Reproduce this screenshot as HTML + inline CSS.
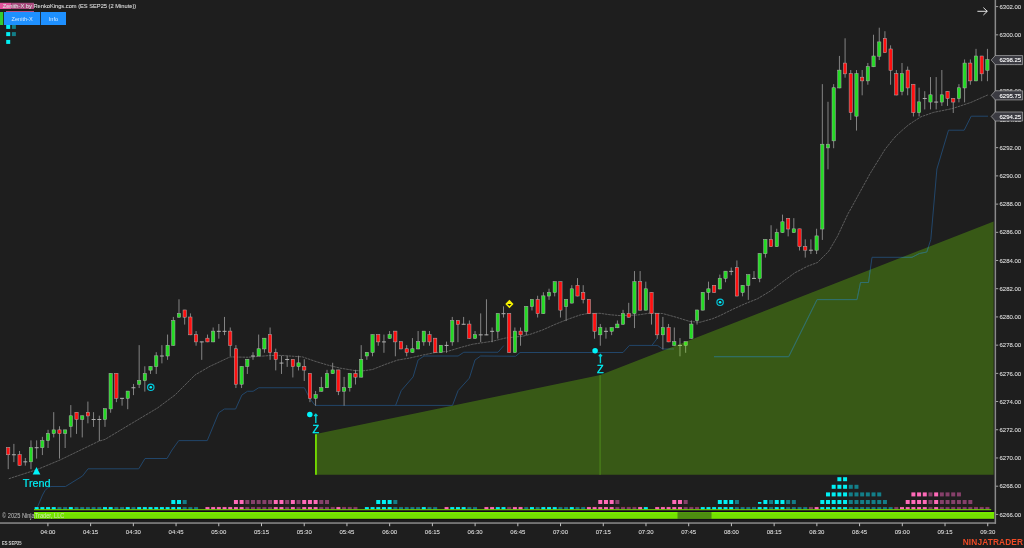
<!DOCTYPE html>
<html lang="en">
<head>
<meta charset="utf-8">
<title>Zenith-X by RenkoKings.com (ES SEP25 (2 Minute))</title>
<style>
html,body{margin:0;padding:0;background:#1e1e1e;overflow:hidden}
body{width:1024px;height:548px}
svg{display:block;font-family:'Liberation Sans', sans-serif}
text{font-family:'Liberation Sans', sans-serif}
.lb{fill:#dadada;stroke:#dadada;stroke-width:.1px}
.tg{fill:#fff;stroke:#fff;stroke-width:.1px}
.cy{fill:#00f0f6;stroke:#00f0f6;stroke-width:.18px}
.zz{stroke-width:.32px}
.bt{fill:#d4e9ff}
.cp{fill:#e8e8e8;fill-opacity:.78}
.es{fill:#d4d4d4;font-weight:bold}
.nt{fill:#ee4a26;font-weight:bold}
</style>
</head>
<body>
<svg width="1024" height="548" viewBox="0 0 1024 548">
<rect x="0" y="0" width="1024" height="548" fill="#1e1e1e"/>
<polyline points="36.30,510.00 42.50,495.00 45.00,490.50 48.00,487.50 51.00,486.50 65.50,486.50 82.50,476.00 88.00,468.80 138.75,468.80 145.00,458.50 167.00,458.50 172.00,450.00 178.75,440.60 207.25,440.60 218.75,412.75 224.40,409.00 235.60,409.00 241.90,395.00 247.50,391.25 253.10,391.25 258.75,387.75 304.40,387.75 308.00,395.00 311.00,400.00 315.00,405.40 395.60,405.40 401.25,390.60 413.10,376.90 418.10,360.00 424.00,356.00 458.10,356.00 463.75,352.25 498.00,352.25 503.75,345.60" fill="none" stroke="#22466a" stroke-width="1.0" stroke-linejoin="round" />
<polyline points="395.00,405.40 452.50,405.40 458.10,390.60 469.40,378.10 475.00,360.00 480.60,356.00 515.60,356.25 520.00,352.50 623.00,352.50 629.40,345.40 657.50,345.40 662.50,349.00 674.00,349.00" fill="none" stroke="#22466a" stroke-width="1.0" stroke-linejoin="round" />
<polyline points="651.90,345.40 657.50,338.00" fill="none" stroke="#22466a" stroke-width="1.0" stroke-linejoin="round" />
<polyline points="714.00,356.70 788.70,356.70 817.10,299.60 857.00,299.60 860.50,282.50 868.50,282.50 872.00,257.30 912.00,257.30 919.30,253.50 926.80,252.00 930.80,239.60 932.50,220.00 936.90,169.00 948.50,130.20 964.20,130.20 971.20,116.20 988.00,116.20" fill="none" stroke="#22466a" stroke-width="1.0" stroke-linejoin="round" />
<polyline points="8.75,478.75 37.50,469.40 60.00,460.00 98.75,441.25 105.00,439.40 128.00,425.60 157.50,408.00 175.00,395.00 195.00,375.00 210.00,366.25 215.00,364.00 230.00,356.90 248.00,357.25 252.50,356.90 268.75,355.60 281.00,355.40 302.50,356.90 315.00,361.25 327.50,365.00 340.00,368.10 355.00,370.60 363.75,370.75 372.50,369.50 385.00,364.50 397.50,360.10 410.00,358.00 422.50,355.10 435.00,352.60 447.50,351.40 460.00,347.60 472.50,344.25 480.00,343.10 492.50,341.25 505.00,338.10 522.50,336.25 530.00,334.40 542.50,330.00 555.00,324.40 567.50,319.40 580.00,315.00 587.50,313.50 600.00,313.30 610.00,314.75 620.00,315.60 637.50,315.00 650.00,313.10 662.50,313.50 675.00,316.90 690.00,321.50 700.00,322.25 712.50,318.75 720.00,315.60 732.50,309.40 745.00,303.75 757.50,298.75 770.00,291.25 782.50,281.90 795.00,272.70 807.50,266.25 817.50,262.50 828.75,251.25 837.50,236.25 848.00,213.75 851.25,208.00 870.00,173.75 885.00,149.40 892.50,140.00 896.00,136.00 902.50,130.00 908.50,124.90 915.00,120.60 921.00,116.75 933.50,112.40 952.25,108.60 971.00,102.40 987.90,94.90" fill="none" stroke="#717171" stroke-width="0.75" stroke-linejoin="round" stroke-dasharray="2.6 0.7"/>
<rect x="7.75" y="447.41" width="0.9" height="21.76" fill="#8e8e8e"/>
<rect x="6.55" y="447.51" width="3.3" height="7.25" fill="#ff1010" stroke="#b0b0b0" stroke-width="0.5"/>
<rect x="13.44" y="443.88" width="0.9" height="18.23" fill="#8e8e8e"/>
<rect x="11.89" y="454.26" width="4" height="1" fill="#b0b0b0"/>
<rect x="19.14" y="450.94" width="0.9" height="14.71" fill="#8e8e8e"/>
<rect x="17.94" y="454.56" width="3.3" height="10.78" fill="#ff1010" stroke="#b0b0b0" stroke-width="0.5"/>
<rect x="24.83" y="457.99" width="0.9" height="7.65" fill="#8e8e8e"/>
<rect x="23.28" y="461.32" width="4" height="1" fill="#b0b0b0"/>
<rect x="30.52" y="440.36" width="0.9" height="28.82" fill="#8e8e8e"/>
<rect x="29.32" y="447.51" width="3.3" height="14.31" fill="#24da24" stroke="#b0b0b0" stroke-width="0.5"/>
<rect x="36.21" y="440.36" width="0.9" height="18.23" fill="#8e8e8e"/>
<rect x="34.66" y="447.21" width="4" height="1" fill="#b0b0b0"/>
<rect x="41.91" y="436.83" width="0.9" height="18.23" fill="#8e8e8e"/>
<rect x="40.71" y="440.46" width="3.3" height="7.25" fill="#24da24" stroke="#b0b0b0" stroke-width="0.5"/>
<rect x="47.60" y="429.77" width="0.9" height="18.23" fill="#8e8e8e"/>
<rect x="46.40" y="433.40" width="3.3" height="7.25" fill="#24da24" stroke="#b0b0b0" stroke-width="0.5"/>
<rect x="53.29" y="412.14" width="0.9" height="25.29" fill="#8e8e8e"/>
<rect x="52.09" y="429.87" width="3.3" height="3.73" fill="#24da24" stroke="#b0b0b0" stroke-width="0.5"/>
<rect x="58.99" y="426.25" width="0.9" height="32.34" fill="#8e8e8e"/>
<rect x="57.79" y="429.87" width="3.3" height="3.73" fill="#ff1010" stroke="#b0b0b0" stroke-width="0.5"/>
<rect x="64.68" y="429.77" width="0.9" height="18.23" fill="#8e8e8e"/>
<rect x="63.48" y="429.87" width="3.3" height="3.73" fill="#24da24" stroke="#b0b0b0" stroke-width="0.5"/>
<rect x="70.37" y="405.09" width="0.9" height="32.34" fill="#8e8e8e"/>
<rect x="69.17" y="415.77" width="3.3" height="10.78" fill="#24da24" stroke="#b0b0b0" stroke-width="0.5"/>
<rect x="76.07" y="412.14" width="0.9" height="21.76" fill="#8e8e8e"/>
<rect x="74.87" y="412.24" width="3.3" height="7.25" fill="#ff1010" stroke="#b0b0b0" stroke-width="0.5"/>
<rect x="81.76" y="415.67" width="0.9" height="21.76" fill="#8e8e8e"/>
<rect x="80.56" y="415.77" width="3.3" height="3.73" fill="#24da24" stroke="#b0b0b0" stroke-width="0.5"/>
<rect x="87.45" y="401.56" width="0.9" height="21.76" fill="#8e8e8e"/>
<rect x="86.25" y="412.24" width="3.3" height="3.73" fill="#ff1010" stroke="#b0b0b0" stroke-width="0.5"/>
<rect x="93.14" y="412.14" width="0.9" height="14.71" fill="#8e8e8e"/>
<rect x="91.59" y="418.99" width="4" height="1" fill="#b0b0b0"/>
<rect x="98.84" y="415.67" width="0.9" height="25.29" fill="#8e8e8e"/>
<rect x="97.29" y="418.99" width="4" height="1" fill="#b0b0b0"/>
<rect x="104.53" y="408.61" width="0.9" height="18.23" fill="#8e8e8e"/>
<rect x="103.33" y="408.71" width="3.3" height="10.78" fill="#24da24" stroke="#b0b0b0" stroke-width="0.5"/>
<rect x="110.22" y="373.34" width="0.9" height="39.40" fill="#8e8e8e"/>
<rect x="109.02" y="373.44" width="3.3" height="35.47" fill="#24da24" stroke="#b0b0b0" stroke-width="0.5"/>
<rect x="115.92" y="373.34" width="0.9" height="28.82" fill="#8e8e8e"/>
<rect x="114.72" y="373.44" width="3.3" height="24.89" fill="#ff1010" stroke="#b0b0b0" stroke-width="0.5"/>
<rect x="121.61" y="398.03" width="0.9" height="7.65" fill="#8e8e8e"/>
<rect x="120.06" y="397.83" width="4" height="1" fill="#b0b0b0"/>
<rect x="127.30" y="390.98" width="0.9" height="18.23" fill="#8e8e8e"/>
<rect x="126.10" y="391.08" width="3.3" height="7.25" fill="#24da24" stroke="#b0b0b0" stroke-width="0.5"/>
<rect x="133.00" y="383.92" width="0.9" height="11.18" fill="#8e8e8e"/>
<rect x="131.45" y="387.25" width="4" height="1" fill="#b0b0b0"/>
<rect x="138.69" y="345.13" width="0.9" height="42.92" fill="#8e8e8e"/>
<rect x="137.49" y="380.50" width="3.3" height="3.73" fill="#24da24" stroke="#b0b0b0" stroke-width="0.5"/>
<rect x="144.38" y="366.29" width="0.9" height="25.29" fill="#8e8e8e"/>
<rect x="143.18" y="373.44" width="3.3" height="7.25" fill="#24da24" stroke="#b0b0b0" stroke-width="0.5"/>
<rect x="150.07" y="366.29" width="0.9" height="7.65" fill="#8e8e8e"/>
<rect x="148.87" y="366.39" width="3.3" height="3.73" fill="#24da24" stroke="#b0b0b0" stroke-width="0.5"/>
<rect x="155.77" y="352.18" width="0.9" height="21.76" fill="#8e8e8e"/>
<rect x="154.57" y="355.81" width="3.3" height="10.78" fill="#24da24" stroke="#b0b0b0" stroke-width="0.5"/>
<rect x="161.46" y="345.13" width="0.9" height="18.23" fill="#8e8e8e"/>
<rect x="159.91" y="355.51" width="4" height="1" fill="#b0b0b0"/>
<rect x="167.15" y="334.55" width="0.9" height="25.29" fill="#8e8e8e"/>
<rect x="165.95" y="345.23" width="3.3" height="10.78" fill="#24da24" stroke="#b0b0b0" stroke-width="0.5"/>
<rect x="172.85" y="316.91" width="0.9" height="28.82" fill="#8e8e8e"/>
<rect x="171.65" y="320.54" width="3.3" height="24.89" fill="#24da24" stroke="#b0b0b0" stroke-width="0.5"/>
<rect x="178.54" y="299.28" width="0.9" height="18.23" fill="#8e8e8e"/>
<rect x="177.34" y="313.48" width="3.3" height="3.73" fill="#24da24" stroke="#b0b0b0" stroke-width="0.5"/>
<rect x="184.23" y="309.86" width="0.9" height="14.71" fill="#8e8e8e"/>
<rect x="183.03" y="309.96" width="3.3" height="7.25" fill="#ff1010" stroke="#b0b0b0" stroke-width="0.5"/>
<rect x="189.93" y="313.38" width="0.9" height="21.76" fill="#8e8e8e"/>
<rect x="188.73" y="317.01" width="3.3" height="17.83" fill="#ff1010" stroke="#b0b0b0" stroke-width="0.5"/>
<rect x="195.62" y="331.02" width="0.9" height="14.71" fill="#8e8e8e"/>
<rect x="194.42" y="334.65" width="3.3" height="7.25" fill="#ff1010" stroke="#b0b0b0" stroke-width="0.5"/>
<rect x="201.31" y="341.60" width="0.9" height="18.24" fill="#8e8e8e"/>
<rect x="199.76" y="341.40" width="4" height="1" fill="#b0b0b0"/>
<rect x="207.00" y="334.55" width="0.9" height="7.65" fill="#8e8e8e"/>
<rect x="205.80" y="338.17" width="3.3" height="3.73" fill="#ff1010" stroke="#b0b0b0" stroke-width="0.5"/>
<rect x="212.70" y="327.49" width="0.9" height="14.71" fill="#8e8e8e"/>
<rect x="211.50" y="331.12" width="3.3" height="10.78" fill="#24da24" stroke="#b0b0b0" stroke-width="0.5"/>
<rect x="218.39" y="323.96" width="0.9" height="14.71" fill="#8e8e8e"/>
<rect x="216.84" y="330.82" width="4" height="1" fill="#b0b0b0"/>
<rect x="224.08" y="316.91" width="0.9" height="18.23" fill="#8e8e8e"/>
<rect x="222.53" y="330.82" width="4" height="1" fill="#b0b0b0"/>
<rect x="229.78" y="327.49" width="0.9" height="28.82" fill="#8e8e8e"/>
<rect x="228.58" y="331.12" width="3.3" height="14.31" fill="#ff1010" stroke="#b0b0b0" stroke-width="0.5"/>
<rect x="235.47" y="345.13" width="0.9" height="42.92" fill="#8e8e8e"/>
<rect x="234.27" y="348.75" width="3.3" height="35.47" fill="#ff1010" stroke="#b0b0b0" stroke-width="0.5"/>
<rect x="241.16" y="366.29" width="0.9" height="21.76" fill="#8e8e8e"/>
<rect x="239.96" y="366.39" width="3.3" height="17.83" fill="#24da24" stroke="#b0b0b0" stroke-width="0.5"/>
<rect x="246.86" y="359.23" width="0.9" height="14.71" fill="#8e8e8e"/>
<rect x="245.66" y="359.33" width="3.3" height="7.25" fill="#24da24" stroke="#b0b0b0" stroke-width="0.5"/>
<rect x="252.55" y="352.18" width="0.9" height="7.65" fill="#8e8e8e"/>
<rect x="251.00" y="355.51" width="4" height="1" fill="#b0b0b0"/>
<rect x="258.24" y="334.55" width="0.9" height="21.76" fill="#8e8e8e"/>
<rect x="257.04" y="348.75" width="3.3" height="7.25" fill="#24da24" stroke="#b0b0b0" stroke-width="0.5"/>
<rect x="263.94" y="338.07" width="0.9" height="14.71" fill="#8e8e8e"/>
<rect x="262.74" y="338.17" width="3.3" height="10.78" fill="#24da24" stroke="#b0b0b0" stroke-width="0.5"/>
<rect x="269.63" y="327.49" width="0.9" height="32.34" fill="#8e8e8e"/>
<rect x="268.43" y="334.65" width="3.3" height="17.83" fill="#ff1010" stroke="#b0b0b0" stroke-width="0.5"/>
<rect x="275.32" y="348.65" width="0.9" height="21.76" fill="#8e8e8e"/>
<rect x="274.12" y="352.28" width="3.3" height="7.25" fill="#ff1010" stroke="#b0b0b0" stroke-width="0.5"/>
<rect x="281.01" y="355.71" width="0.9" height="18.23" fill="#8e8e8e"/>
<rect x="279.46" y="362.56" width="4" height="1" fill="#b0b0b0"/>
<rect x="286.71" y="355.71" width="0.9" height="11.18" fill="#8e8e8e"/>
<rect x="285.16" y="359.03" width="4" height="1" fill="#b0b0b0"/>
<rect x="292.40" y="359.23" width="0.9" height="18.23" fill="#8e8e8e"/>
<rect x="291.20" y="359.33" width="3.3" height="7.25" fill="#ff1010" stroke="#b0b0b0" stroke-width="0.5"/>
<rect x="298.09" y="355.71" width="0.9" height="14.71" fill="#8e8e8e"/>
<rect x="296.89" y="362.86" width="3.3" height="3.73" fill="#24da24" stroke="#b0b0b0" stroke-width="0.5"/>
<rect x="303.79" y="359.23" width="0.9" height="21.76" fill="#8e8e8e"/>
<rect x="302.59" y="366.39" width="3.3" height="3.73" fill="#ff1010" stroke="#b0b0b0" stroke-width="0.5"/>
<rect x="309.48" y="373.34" width="0.9" height="28.82" fill="#8e8e8e"/>
<rect x="308.28" y="373.44" width="3.3" height="24.89" fill="#ff1010" stroke="#b0b0b0" stroke-width="0.5"/>
<rect x="315.17" y="390.98" width="0.9" height="14.71" fill="#8e8e8e"/>
<rect x="313.97" y="394.60" width="3.3" height="3.73" fill="#24da24" stroke="#b0b0b0" stroke-width="0.5"/>
<rect x="320.86" y="376.87" width="0.9" height="14.71" fill="#8e8e8e"/>
<rect x="319.66" y="387.55" width="3.3" height="3.73" fill="#24da24" stroke="#b0b0b0" stroke-width="0.5"/>
<rect x="326.56" y="369.81" width="0.9" height="18.23" fill="#8e8e8e"/>
<rect x="325.36" y="373.44" width="3.3" height="14.31" fill="#24da24" stroke="#b0b0b0" stroke-width="0.5"/>
<rect x="332.25" y="362.76" width="0.9" height="11.18" fill="#8e8e8e"/>
<rect x="331.05" y="369.92" width="3.3" height="3.73" fill="#24da24" stroke="#b0b0b0" stroke-width="0.5"/>
<rect x="337.94" y="369.81" width="0.9" height="25.29" fill="#8e8e8e"/>
<rect x="336.74" y="369.92" width="3.3" height="21.36" fill="#ff1010" stroke="#b0b0b0" stroke-width="0.5"/>
<rect x="343.64" y="376.87" width="0.9" height="28.82" fill="#8e8e8e"/>
<rect x="342.44" y="387.55" width="3.3" height="3.73" fill="#24da24" stroke="#b0b0b0" stroke-width="0.5"/>
<rect x="349.33" y="373.34" width="0.9" height="18.24" fill="#8e8e8e"/>
<rect x="348.13" y="373.44" width="3.3" height="14.31" fill="#24da24" stroke="#b0b0b0" stroke-width="0.5"/>
<rect x="355.02" y="369.81" width="0.9" height="14.71" fill="#8e8e8e"/>
<rect x="353.82" y="373.44" width="3.3" height="3.73" fill="#ff1010" stroke="#b0b0b0" stroke-width="0.5"/>
<rect x="360.72" y="345.13" width="0.9" height="32.34" fill="#8e8e8e"/>
<rect x="359.52" y="359.33" width="3.3" height="17.83" fill="#24da24" stroke="#b0b0b0" stroke-width="0.5"/>
<rect x="366.41" y="352.18" width="0.9" height="7.65" fill="#8e8e8e"/>
<rect x="365.21" y="352.28" width="3.3" height="3.73" fill="#24da24" stroke="#b0b0b0" stroke-width="0.5"/>
<rect x="372.10" y="334.55" width="0.9" height="21.76" fill="#8e8e8e"/>
<rect x="370.90" y="334.65" width="3.3" height="17.83" fill="#24da24" stroke="#b0b0b0" stroke-width="0.5"/>
<rect x="377.79" y="334.55" width="0.9" height="11.18" fill="#8e8e8e"/>
<rect x="376.59" y="334.65" width="3.3" height="7.25" fill="#ff1010" stroke="#b0b0b0" stroke-width="0.5"/>
<rect x="383.49" y="334.55" width="0.9" height="18.23" fill="#8e8e8e"/>
<rect x="381.94" y="341.40" width="4" height="1" fill="#b0b0b0"/>
<rect x="389.18" y="331.02" width="0.9" height="7.65" fill="#8e8e8e"/>
<rect x="387.98" y="334.65" width="3.3" height="3.73" fill="#24da24" stroke="#b0b0b0" stroke-width="0.5"/>
<rect x="394.87" y="331.02" width="0.9" height="25.29" fill="#8e8e8e"/>
<rect x="393.67" y="331.12" width="3.3" height="10.78" fill="#ff1010" stroke="#b0b0b0" stroke-width="0.5"/>
<rect x="400.57" y="341.60" width="0.9" height="7.65" fill="#8e8e8e"/>
<rect x="399.37" y="341.70" width="3.3" height="7.25" fill="#ff1010" stroke="#b0b0b0" stroke-width="0.5"/>
<rect x="406.26" y="345.13" width="0.9" height="11.18" fill="#8e8e8e"/>
<rect x="405.06" y="348.75" width="3.3" height="3.73" fill="#ff1010" stroke="#b0b0b0" stroke-width="0.5"/>
<rect x="411.95" y="338.07" width="0.9" height="14.71" fill="#8e8e8e"/>
<rect x="410.75" y="348.75" width="3.3" height="3.73" fill="#24da24" stroke="#b0b0b0" stroke-width="0.5"/>
<rect x="417.65" y="331.02" width="0.9" height="18.23" fill="#8e8e8e"/>
<rect x="416.45" y="341.70" width="3.3" height="7.25" fill="#24da24" stroke="#b0b0b0" stroke-width="0.5"/>
<rect x="423.34" y="331.02" width="0.9" height="14.71" fill="#8e8e8e"/>
<rect x="422.14" y="331.12" width="3.3" height="10.78" fill="#24da24" stroke="#b0b0b0" stroke-width="0.5"/>
<rect x="429.03" y="331.02" width="0.9" height="14.71" fill="#8e8e8e"/>
<rect x="427.83" y="334.65" width="3.3" height="7.25" fill="#ff1010" stroke="#b0b0b0" stroke-width="0.5"/>
<rect x="434.72" y="338.07" width="0.9" height="14.71" fill="#8e8e8e"/>
<rect x="433.52" y="338.17" width="3.3" height="14.31" fill="#ff1010" stroke="#b0b0b0" stroke-width="0.5"/>
<rect x="440.42" y="345.13" width="0.9" height="7.65" fill="#8e8e8e"/>
<rect x="439.22" y="345.23" width="3.3" height="7.25" fill="#24da24" stroke="#b0b0b0" stroke-width="0.5"/>
<rect x="446.11" y="341.60" width="0.9" height="11.18" fill="#8e8e8e"/>
<rect x="444.56" y="344.93" width="4" height="1" fill="#b0b0b0"/>
<rect x="451.80" y="316.91" width="0.9" height="28.82" fill="#8e8e8e"/>
<rect x="450.60" y="320.54" width="3.3" height="21.36" fill="#24da24" stroke="#b0b0b0" stroke-width="0.5"/>
<rect x="457.50" y="320.44" width="0.9" height="21.76" fill="#8e8e8e"/>
<rect x="456.30" y="320.54" width="3.3" height="3.73" fill="#ff1010" stroke="#b0b0b0" stroke-width="0.5"/>
<rect x="463.19" y="316.91" width="0.9" height="7.65" fill="#8e8e8e"/>
<rect x="461.64" y="323.76" width="4" height="1" fill="#b0b0b0"/>
<rect x="468.88" y="320.44" width="0.9" height="18.23" fill="#8e8e8e"/>
<rect x="467.68" y="324.06" width="3.3" height="14.31" fill="#ff1010" stroke="#b0b0b0" stroke-width="0.5"/>
<rect x="474.58" y="331.02" width="0.9" height="7.65" fill="#8e8e8e"/>
<rect x="473.38" y="334.65" width="3.3" height="3.73" fill="#24da24" stroke="#b0b0b0" stroke-width="0.5"/>
<rect x="480.27" y="313.38" width="0.9" height="28.82" fill="#8e8e8e"/>
<rect x="478.72" y="334.35" width="4" height="1" fill="#b0b0b0"/>
<rect x="485.96" y="299.28" width="0.9" height="35.87" fill="#8e8e8e"/>
<rect x="484.41" y="334.35" width="4" height="1" fill="#b0b0b0"/>
<rect x="491.65" y="327.49" width="0.9" height="14.71" fill="#8e8e8e"/>
<rect x="490.10" y="330.82" width="4" height="1" fill="#b0b0b0"/>
<rect x="497.35" y="313.38" width="0.9" height="25.29" fill="#8e8e8e"/>
<rect x="496.15" y="313.48" width="3.3" height="17.83" fill="#24da24" stroke="#b0b0b0" stroke-width="0.5"/>
<rect x="503.04" y="306.33" width="0.9" height="11.18" fill="#8e8e8e"/>
<rect x="501.49" y="313.18" width="4" height="1" fill="#b0b0b0"/>
<rect x="508.73" y="313.38" width="0.9" height="39.40" fill="#8e8e8e"/>
<rect x="507.53" y="313.48" width="3.3" height="39.00" fill="#ff1010" stroke="#b0b0b0" stroke-width="0.5"/>
<rect x="514.43" y="327.49" width="0.9" height="25.29" fill="#8e8e8e"/>
<rect x="513.23" y="331.12" width="3.3" height="21.36" fill="#24da24" stroke="#b0b0b0" stroke-width="0.5"/>
<rect x="520.12" y="327.49" width="0.9" height="18.24" fill="#8e8e8e"/>
<rect x="518.92" y="331.12" width="3.3" height="3.73" fill="#ff1010" stroke="#b0b0b0" stroke-width="0.5"/>
<rect x="525.81" y="306.33" width="0.9" height="28.82" fill="#8e8e8e"/>
<rect x="524.61" y="306.43" width="3.3" height="24.89" fill="#24da24" stroke="#b0b0b0" stroke-width="0.5"/>
<rect x="531.51" y="299.28" width="0.9" height="11.18" fill="#8e8e8e"/>
<rect x="530.31" y="299.38" width="3.3" height="7.25" fill="#24da24" stroke="#b0b0b0" stroke-width="0.5"/>
<rect x="537.20" y="295.75" width="0.9" height="21.76" fill="#8e8e8e"/>
<rect x="536.00" y="299.38" width="3.3" height="14.31" fill="#ff1010" stroke="#b0b0b0" stroke-width="0.5"/>
<rect x="542.89" y="292.22" width="0.9" height="21.76" fill="#8e8e8e"/>
<rect x="541.69" y="295.85" width="3.3" height="17.84" fill="#24da24" stroke="#b0b0b0" stroke-width="0.5"/>
<rect x="548.58" y="288.69" width="0.9" height="11.18" fill="#8e8e8e"/>
<rect x="547.38" y="292.32" width="3.3" height="3.73" fill="#24da24" stroke="#b0b0b0" stroke-width="0.5"/>
<rect x="554.28" y="281.64" width="0.9" height="14.71" fill="#8e8e8e"/>
<rect x="553.08" y="281.74" width="3.3" height="10.78" fill="#24da24" stroke="#b0b0b0" stroke-width="0.5"/>
<rect x="559.97" y="281.64" width="0.9" height="35.87" fill="#8e8e8e"/>
<rect x="558.77" y="281.74" width="3.3" height="28.42" fill="#ff1010" stroke="#b0b0b0" stroke-width="0.5"/>
<rect x="565.66" y="299.28" width="0.9" height="21.76" fill="#8e8e8e"/>
<rect x="564.46" y="299.38" width="3.3" height="7.25" fill="#24da24" stroke="#b0b0b0" stroke-width="0.5"/>
<rect x="571.36" y="285.17" width="0.9" height="18.24" fill="#8e8e8e"/>
<rect x="570.16" y="288.79" width="3.3" height="14.31" fill="#24da24" stroke="#b0b0b0" stroke-width="0.5"/>
<rect x="577.05" y="278.11" width="0.9" height="18.23" fill="#8e8e8e"/>
<rect x="575.85" y="285.27" width="3.3" height="10.78" fill="#ff1010" stroke="#b0b0b0" stroke-width="0.5"/>
<rect x="582.74" y="285.17" width="0.9" height="18.24" fill="#8e8e8e"/>
<rect x="581.54" y="292.32" width="3.3" height="7.25" fill="#ff1010" stroke="#b0b0b0" stroke-width="0.5"/>
<rect x="588.44" y="299.28" width="0.9" height="14.71" fill="#8e8e8e"/>
<rect x="587.24" y="299.38" width="3.3" height="14.31" fill="#ff1010" stroke="#b0b0b0" stroke-width="0.5"/>
<rect x="594.13" y="313.38" width="0.9" height="25.29" fill="#8e8e8e"/>
<rect x="592.93" y="313.48" width="3.3" height="17.83" fill="#ff1010" stroke="#b0b0b0" stroke-width="0.5"/>
<rect x="599.82" y="323.96" width="0.9" height="21.76" fill="#8e8e8e"/>
<rect x="598.62" y="327.59" width="3.3" height="7.25" fill="#24da24" stroke="#b0b0b0" stroke-width="0.5"/>
<rect x="605.51" y="327.49" width="0.9" height="11.18" fill="#8e8e8e"/>
<rect x="603.97" y="330.82" width="4" height="1" fill="#b0b0b0"/>
<rect x="611.21" y="327.49" width="0.9" height="7.65" fill="#8e8e8e"/>
<rect x="610.01" y="327.59" width="3.3" height="3.73" fill="#24da24" stroke="#b0b0b0" stroke-width="0.5"/>
<rect x="616.90" y="320.44" width="0.9" height="7.65" fill="#8e8e8e"/>
<rect x="615.70" y="324.06" width="3.3" height="3.73" fill="#24da24" stroke="#b0b0b0" stroke-width="0.5"/>
<rect x="622.59" y="309.86" width="0.9" height="14.71" fill="#8e8e8e"/>
<rect x="621.39" y="313.48" width="3.3" height="10.78" fill="#24da24" stroke="#b0b0b0" stroke-width="0.5"/>
<rect x="628.29" y="302.80" width="0.9" height="14.71" fill="#8e8e8e"/>
<rect x="627.09" y="313.48" width="3.3" height="3.73" fill="#ff1010" stroke="#b0b0b0" stroke-width="0.5"/>
<rect x="633.98" y="271.06" width="0.9" height="57.03" fill="#8e8e8e"/>
<rect x="632.78" y="281.74" width="3.3" height="31.94" fill="#24da24" stroke="#b0b0b0" stroke-width="0.5"/>
<rect x="639.67" y="271.06" width="0.9" height="39.40" fill="#8e8e8e"/>
<rect x="638.47" y="281.74" width="3.3" height="28.42" fill="#ff1010" stroke="#b0b0b0" stroke-width="0.5"/>
<rect x="645.37" y="281.64" width="0.9" height="28.82" fill="#8e8e8e"/>
<rect x="644.17" y="288.79" width="3.3" height="21.36" fill="#24da24" stroke="#b0b0b0" stroke-width="0.5"/>
<rect x="651.06" y="292.22" width="0.9" height="32.34" fill="#8e8e8e"/>
<rect x="649.86" y="292.32" width="3.3" height="21.36" fill="#ff1010" stroke="#b0b0b0" stroke-width="0.5"/>
<rect x="656.75" y="313.38" width="0.9" height="25.29" fill="#8e8e8e"/>
<rect x="655.55" y="313.48" width="3.3" height="21.36" fill="#ff1010" stroke="#b0b0b0" stroke-width="0.5"/>
<rect x="662.44" y="316.91" width="0.9" height="32.34" fill="#8e8e8e"/>
<rect x="661.25" y="327.59" width="3.3" height="7.25" fill="#24da24" stroke="#b0b0b0" stroke-width="0.5"/>
<rect x="668.14" y="323.96" width="0.9" height="18.23" fill="#8e8e8e"/>
<rect x="666.94" y="327.59" width="3.3" height="14.31" fill="#ff1010" stroke="#b0b0b0" stroke-width="0.5"/>
<rect x="673.83" y="327.49" width="0.9" height="18.24" fill="#8e8e8e"/>
<rect x="672.63" y="341.70" width="3.3" height="3.73" fill="#24da24" stroke="#b0b0b0" stroke-width="0.5"/>
<rect x="679.52" y="338.07" width="0.9" height="18.23" fill="#8e8e8e"/>
<rect x="677.97" y="344.93" width="4" height="1" fill="#b0b0b0"/>
<rect x="685.22" y="341.60" width="0.9" height="11.18" fill="#8e8e8e"/>
<rect x="684.02" y="341.70" width="3.3" height="3.73" fill="#24da24" stroke="#b0b0b0" stroke-width="0.5"/>
<rect x="690.91" y="320.44" width="0.9" height="18.23" fill="#8e8e8e"/>
<rect x="689.71" y="324.06" width="3.3" height="14.31" fill="#24da24" stroke="#b0b0b0" stroke-width="0.5"/>
<rect x="696.60" y="309.86" width="0.9" height="14.71" fill="#8e8e8e"/>
<rect x="695.40" y="309.96" width="3.3" height="10.78" fill="#24da24" stroke="#b0b0b0" stroke-width="0.5"/>
<rect x="702.30" y="292.22" width="0.9" height="18.23" fill="#8e8e8e"/>
<rect x="701.10" y="292.32" width="3.3" height="17.83" fill="#24da24" stroke="#b0b0b0" stroke-width="0.5"/>
<rect x="707.99" y="281.64" width="0.9" height="18.24" fill="#8e8e8e"/>
<rect x="706.79" y="288.79" width="3.3" height="3.73" fill="#24da24" stroke="#b0b0b0" stroke-width="0.5"/>
<rect x="713.68" y="285.17" width="0.9" height="7.65" fill="#8e8e8e"/>
<rect x="712.48" y="285.27" width="3.3" height="7.25" fill="#ff1010" stroke="#b0b0b0" stroke-width="0.5"/>
<rect x="719.38" y="274.59" width="0.9" height="14.71" fill="#8e8e8e"/>
<rect x="718.18" y="278.21" width="3.3" height="10.78" fill="#24da24" stroke="#b0b0b0" stroke-width="0.5"/>
<rect x="725.07" y="271.06" width="0.9" height="11.18" fill="#8e8e8e"/>
<rect x="723.87" y="271.16" width="3.3" height="7.25" fill="#24da24" stroke="#b0b0b0" stroke-width="0.5"/>
<rect x="730.76" y="267.53" width="0.9" height="7.65" fill="#8e8e8e"/>
<rect x="729.21" y="270.86" width="4" height="1" fill="#b0b0b0"/>
<rect x="736.45" y="260.48" width="0.9" height="35.87" fill="#8e8e8e"/>
<rect x="735.25" y="267.63" width="3.3" height="28.42" fill="#ff1010" stroke="#b0b0b0" stroke-width="0.5"/>
<rect x="742.15" y="285.17" width="0.9" height="11.18" fill="#8e8e8e"/>
<rect x="740.95" y="285.27" width="3.3" height="7.25" fill="#24da24" stroke="#b0b0b0" stroke-width="0.5"/>
<rect x="747.84" y="274.59" width="0.9" height="25.29" fill="#8e8e8e"/>
<rect x="746.64" y="274.69" width="3.3" height="10.78" fill="#24da24" stroke="#b0b0b0" stroke-width="0.5"/>
<rect x="753.53" y="271.06" width="0.9" height="7.65" fill="#8e8e8e"/>
<rect x="751.98" y="277.91" width="4" height="1" fill="#b0b0b0"/>
<rect x="759.23" y="253.42" width="0.9" height="28.82" fill="#8e8e8e"/>
<rect x="758.03" y="253.52" width="3.3" height="24.89" fill="#24da24" stroke="#b0b0b0" stroke-width="0.5"/>
<rect x="764.92" y="239.32" width="0.9" height="18.24" fill="#8e8e8e"/>
<rect x="763.72" y="239.42" width="3.3" height="14.31" fill="#24da24" stroke="#b0b0b0" stroke-width="0.5"/>
<rect x="770.61" y="225.21" width="0.9" height="21.76" fill="#8e8e8e"/>
<rect x="769.41" y="239.42" width="3.3" height="7.25" fill="#ff1010" stroke="#b0b0b0" stroke-width="0.5"/>
<rect x="776.30" y="228.74" width="0.9" height="18.23" fill="#8e8e8e"/>
<rect x="775.11" y="232.36" width="3.3" height="14.31" fill="#24da24" stroke="#b0b0b0" stroke-width="0.5"/>
<rect x="782.00" y="214.63" width="0.9" height="18.23" fill="#8e8e8e"/>
<rect x="780.80" y="221.78" width="3.3" height="10.78" fill="#24da24" stroke="#b0b0b0" stroke-width="0.5"/>
<rect x="787.69" y="218.15" width="0.9" height="18.23" fill="#8e8e8e"/>
<rect x="786.49" y="218.25" width="3.3" height="10.78" fill="#ff1010" stroke="#b0b0b0" stroke-width="0.5"/>
<rect x="793.38" y="218.15" width="0.9" height="14.71" fill="#8e8e8e"/>
<rect x="792.18" y="228.84" width="3.3" height="3.73" fill="#24da24" stroke="#b0b0b0" stroke-width="0.5"/>
<rect x="799.08" y="228.74" width="0.9" height="21.76" fill="#8e8e8e"/>
<rect x="797.88" y="228.84" width="3.3" height="17.83" fill="#ff1010" stroke="#b0b0b0" stroke-width="0.5"/>
<rect x="804.77" y="239.32" width="0.9" height="18.24" fill="#8e8e8e"/>
<rect x="803.57" y="246.47" width="3.3" height="3.73" fill="#ff1010" stroke="#b0b0b0" stroke-width="0.5"/>
<rect x="810.46" y="239.32" width="0.9" height="14.71" fill="#8e8e8e"/>
<rect x="808.91" y="249.70" width="4" height="1" fill="#b0b0b0"/>
<rect x="816.16" y="228.74" width="0.9" height="25.29" fill="#8e8e8e"/>
<rect x="814.96" y="235.89" width="3.3" height="14.31" fill="#24da24" stroke="#b0b0b0" stroke-width="0.5"/>
<rect x="821.85" y="84.13" width="0.9" height="155.79" fill="#8e8e8e"/>
<rect x="820.65" y="144.19" width="3.3" height="84.85" fill="#24da24" stroke="#b0b0b0" stroke-width="0.5"/>
<rect x="827.54" y="101.76" width="0.9" height="67.61" fill="#8e8e8e"/>
<rect x="826.34" y="144.19" width="3.3" height="3.73" fill="#24da24" stroke="#b0b0b0" stroke-width="0.5"/>
<rect x="833.23" y="84.13" width="0.9" height="64.09" fill="#8e8e8e"/>
<rect x="832.03" y="87.75" width="3.3" height="53.11" fill="#24da24" stroke="#b0b0b0" stroke-width="0.5"/>
<rect x="838.93" y="55.91" width="0.9" height="32.34" fill="#8e8e8e"/>
<rect x="837.73" y="70.12" width="3.3" height="17.84" fill="#24da24" stroke="#b0b0b0" stroke-width="0.5"/>
<rect x="844.62" y="38.28" width="0.9" height="39.40" fill="#8e8e8e"/>
<rect x="843.42" y="63.07" width="3.3" height="10.78" fill="#ff1010" stroke="#b0b0b0" stroke-width="0.5"/>
<rect x="850.31" y="70.02" width="0.9" height="49.98" fill="#8e8e8e"/>
<rect x="849.11" y="73.65" width="3.3" height="39.00" fill="#ff1010" stroke="#b0b0b0" stroke-width="0.5"/>
<rect x="856.01" y="70.02" width="0.9" height="60.56" fill="#8e8e8e"/>
<rect x="854.81" y="73.65" width="3.3" height="42.52" fill="#24da24" stroke="#b0b0b0" stroke-width="0.5"/>
<rect x="861.70" y="70.02" width="0.9" height="25.29" fill="#8e8e8e"/>
<rect x="860.50" y="77.17" width="3.3" height="3.73" fill="#ff1010" stroke="#b0b0b0" stroke-width="0.5"/>
<rect x="867.39" y="62.97" width="0.9" height="21.76" fill="#8e8e8e"/>
<rect x="866.19" y="66.59" width="3.3" height="14.31" fill="#24da24" stroke="#b0b0b0" stroke-width="0.5"/>
<rect x="873.09" y="34.75" width="0.9" height="32.34" fill="#8e8e8e"/>
<rect x="871.89" y="56.01" width="3.3" height="10.78" fill="#24da24" stroke="#b0b0b0" stroke-width="0.5"/>
<rect x="878.78" y="27.70" width="0.9" height="32.34" fill="#8e8e8e"/>
<rect x="877.58" y="41.90" width="3.3" height="14.31" fill="#24da24" stroke="#b0b0b0" stroke-width="0.5"/>
<rect x="884.47" y="31.22" width="0.9" height="21.76" fill="#8e8e8e"/>
<rect x="883.27" y="38.38" width="3.3" height="14.31" fill="#ff1010" stroke="#b0b0b0" stroke-width="0.5"/>
<rect x="890.16" y="45.33" width="0.9" height="39.40" fill="#8e8e8e"/>
<rect x="888.97" y="48.96" width="3.3" height="21.36" fill="#ff1010" stroke="#b0b0b0" stroke-width="0.5"/>
<rect x="895.86" y="70.02" width="0.9" height="25.29" fill="#8e8e8e"/>
<rect x="894.66" y="73.65" width="3.3" height="21.36" fill="#ff1010" stroke="#b0b0b0" stroke-width="0.5"/>
<rect x="901.55" y="62.97" width="0.9" height="32.34" fill="#8e8e8e"/>
<rect x="900.35" y="73.65" width="3.3" height="17.83" fill="#24da24" stroke="#b0b0b0" stroke-width="0.5"/>
<rect x="907.24" y="66.49" width="0.9" height="28.82" fill="#8e8e8e"/>
<rect x="906.04" y="70.12" width="3.3" height="17.84" fill="#ff1010" stroke="#b0b0b0" stroke-width="0.5"/>
<rect x="912.94" y="84.13" width="0.9" height="32.34" fill="#8e8e8e"/>
<rect x="911.74" y="84.23" width="3.3" height="28.42" fill="#ff1010" stroke="#b0b0b0" stroke-width="0.5"/>
<rect x="918.63" y="87.66" width="0.9" height="28.82" fill="#8e8e8e"/>
<rect x="917.43" y="101.86" width="3.3" height="10.78" fill="#24da24" stroke="#b0b0b0" stroke-width="0.5"/>
<rect x="924.32" y="91.18" width="0.9" height="18.24" fill="#8e8e8e"/>
<rect x="922.77" y="98.04" width="4" height="1" fill="#b0b0b0"/>
<rect x="930.02" y="77.07" width="0.9" height="32.34" fill="#8e8e8e"/>
<rect x="928.82" y="94.81" width="3.3" height="7.25" fill="#24da24" stroke="#b0b0b0" stroke-width="0.5"/>
<rect x="935.71" y="77.07" width="0.9" height="32.34" fill="#8e8e8e"/>
<rect x="934.16" y="101.56" width="4" height="1" fill="#b0b0b0"/>
<rect x="941.40" y="70.02" width="0.9" height="35.87" fill="#8e8e8e"/>
<rect x="940.20" y="94.81" width="3.3" height="7.25" fill="#24da24" stroke="#b0b0b0" stroke-width="0.5"/>
<rect x="947.09" y="91.18" width="0.9" height="14.71" fill="#8e8e8e"/>
<rect x="945.89" y="91.28" width="3.3" height="7.25" fill="#ff1010" stroke="#b0b0b0" stroke-width="0.5"/>
<rect x="952.79" y="98.24" width="0.9" height="14.71" fill="#8e8e8e"/>
<rect x="951.59" y="98.34" width="3.3" height="3.73" fill="#ff1010" stroke="#b0b0b0" stroke-width="0.5"/>
<rect x="958.48" y="84.13" width="0.9" height="18.24" fill="#8e8e8e"/>
<rect x="957.28" y="87.75" width="3.3" height="10.78" fill="#24da24" stroke="#b0b0b0" stroke-width="0.5"/>
<rect x="964.17" y="59.44" width="0.9" height="42.92" fill="#8e8e8e"/>
<rect x="962.97" y="63.07" width="3.3" height="24.89" fill="#24da24" stroke="#b0b0b0" stroke-width="0.5"/>
<rect x="969.87" y="59.44" width="0.9" height="25.29" fill="#8e8e8e"/>
<rect x="968.67" y="63.07" width="3.3" height="17.83" fill="#ff1010" stroke="#b0b0b0" stroke-width="0.5"/>
<rect x="975.56" y="48.86" width="0.9" height="32.34" fill="#8e8e8e"/>
<rect x="974.36" y="56.01" width="3.3" height="24.89" fill="#24da24" stroke="#b0b0b0" stroke-width="0.5"/>
<rect x="981.25" y="55.91" width="0.9" height="25.29" fill="#8e8e8e"/>
<rect x="980.05" y="56.01" width="3.3" height="17.84" fill="#ff1010" stroke="#b0b0b0" stroke-width="0.5"/>
<rect x="986.95" y="48.86" width="0.9" height="32.34" fill="#8e8e8e"/>
<rect x="985.75" y="59.54" width="3.3" height="10.78" fill="#24da24" stroke="#b0b0b0" stroke-width="0.5"/>
<polygon points="316,434 600.4,375 993.6,221.5 993.6,474.8 316,474.8" fill="#80fc04" fill-opacity="0.27"/>
<rect x="315" y="434.2" width="1.9" height="40.6" fill="#72d800"/>
<rect x="599.3" y="375.2" width="1.6" height="99.6" fill="#4a801a" fill-opacity="0.8"/>
<clipPath id="pg"><polygon points="316,434 600.4,375 993.6,221.5 993.6,474.8 316,474.8"/></clipPath>
<polyline clip-path="url(#pg)" points="714,356.7 788.7,356.7 817.1,299.6 857,299.6 860.5,282.5 868.5,282.5 872,257.3 912,257.3 919.3,253.5 926.8,252 930.8,239.6 932.5,220" fill="none" stroke="#2a6a86" stroke-width="1" stroke-opacity="0.6"/>
<rect x="34.66" y="506.15" width="4" height="0.6" fill="#5a0c0c" fill-opacity="0.55"/>
<rect x="34.66" y="507.1" width="4" height="2.3" fill="#00f0f4"/>
<rect x="40.36" y="506.15" width="4" height="0.6" fill="#5a0c0c" fill-opacity="0.55"/>
<rect x="40.36" y="507.1" width="4" height="2.3" fill="#00f0f4"/>
<rect x="46.05" y="506.15" width="4" height="0.6" fill="#5a0c0c" fill-opacity="0.55"/>
<rect x="46.05" y="507.1" width="4" height="2.3" fill="#00f0f4"/>
<rect x="51.74" y="506.15" width="4" height="0.6" fill="#5a0c0c" fill-opacity="0.55"/>
<rect x="51.74" y="507.1" width="4" height="2.3" fill="#00f0f4"/>
<rect x="57.44" y="506.15" width="4" height="0.6" fill="#5a0c0c" fill-opacity="0.55"/>
<rect x="57.44" y="507.1" width="4" height="2.3" fill="#137e88"/>
<rect x="63.13" y="506.15" width="4" height="0.6" fill="#5a0c0c" fill-opacity="0.55"/>
<rect x="63.13" y="507.1" width="4" height="2.3" fill="#137e88"/>
<rect x="68.82" y="506.15" width="4" height="0.6" fill="#5a0c0c" fill-opacity="0.55"/>
<rect x="68.82" y="507.1" width="4" height="2.3" fill="#00f0f4"/>
<rect x="74.52" y="506.15" width="4" height="0.6" fill="#5a0c0c" fill-opacity="0.55"/>
<rect x="74.52" y="507.1" width="4" height="2.3" fill="#137e88"/>
<rect x="80.21" y="506.15" width="4" height="0.6" fill="#5a0c0c" fill-opacity="0.55"/>
<rect x="80.21" y="507.1" width="4" height="2.3" fill="#137e88"/>
<rect x="85.90" y="506.15" width="4" height="0.6" fill="#5a0c0c" fill-opacity="0.55"/>
<rect x="85.90" y="507.1" width="4" height="2.3" fill="#137e88"/>
<rect x="91.59" y="506.15" width="4" height="0.6" fill="#5a0c0c" fill-opacity="0.55"/>
<rect x="91.59" y="507.1" width="4" height="2.3" fill="#137e88"/>
<rect x="97.29" y="506.15" width="4" height="0.6" fill="#5a0c0c" fill-opacity="0.55"/>
<rect x="97.29" y="507.1" width="4" height="2.3" fill="#137e88"/>
<rect x="102.98" y="506.15" width="4" height="0.6" fill="#5a0c0c" fill-opacity="0.55"/>
<rect x="102.98" y="507.1" width="4" height="2.3" fill="#00f0f4"/>
<rect x="108.67" y="506.15" width="4" height="0.6" fill="#5a0c0c" fill-opacity="0.55"/>
<rect x="108.67" y="507.1" width="4" height="2.3" fill="#00f0f4"/>
<rect x="114.37" y="506.15" width="4" height="0.6" fill="#5a0c0c" fill-opacity="0.55"/>
<rect x="114.37" y="507.1" width="4" height="2.3" fill="#137e88"/>
<rect x="120.06" y="506.15" width="4" height="0.6" fill="#5a0c0c" fill-opacity="0.55"/>
<rect x="120.06" y="507.1" width="4" height="2.3" fill="#137e88"/>
<rect x="125.75" y="506.15" width="4" height="0.6" fill="#5a0c0c" fill-opacity="0.55"/>
<rect x="125.75" y="507.1" width="4" height="2.3" fill="#00f0f4"/>
<rect x="131.45" y="506.15" width="4" height="0.6" fill="#5a0c0c" fill-opacity="0.55"/>
<rect x="131.45" y="507.1" width="4" height="2.3" fill="#137e88"/>
<rect x="137.14" y="506.15" width="4" height="0.6" fill="#5a0c0c" fill-opacity="0.55"/>
<rect x="137.14" y="507.1" width="4" height="2.3" fill="#00f0f4"/>
<rect x="142.83" y="506.15" width="4" height="0.6" fill="#5a0c0c" fill-opacity="0.55"/>
<rect x="142.83" y="507.1" width="4" height="2.3" fill="#00f0f4"/>
<rect x="148.52" y="506.15" width="4" height="0.6" fill="#5a0c0c" fill-opacity="0.55"/>
<rect x="148.52" y="507.1" width="4" height="2.3" fill="#00f0f4"/>
<rect x="154.22" y="506.15" width="4" height="0.6" fill="#5a0c0c" fill-opacity="0.55"/>
<rect x="154.22" y="507.1" width="4" height="2.3" fill="#00f0f4"/>
<rect x="159.91" y="506.15" width="4" height="0.6" fill="#5a0c0c" fill-opacity="0.55"/>
<rect x="159.91" y="507.1" width="4" height="2.3" fill="#00f0f4"/>
<rect x="165.60" y="506.15" width="4" height="0.6" fill="#5a0c0c" fill-opacity="0.55"/>
<rect x="165.60" y="507.1" width="4" height="2.3" fill="#00f0f4"/>
<rect x="171.30" y="506.15" width="4" height="0.6" fill="#5a0c0c" fill-opacity="0.55"/>
<rect x="171.30" y="507.1" width="4" height="2.3" fill="#00f0f4"/>
<rect x="171.30" y="500.00" width="4.00" height="4.00" fill="#00f0f4"/>
<rect x="176.99" y="506.15" width="4" height="0.6" fill="#5a0c0c" fill-opacity="0.55"/>
<rect x="176.99" y="507.1" width="4" height="2.3" fill="#00f0f4"/>
<rect x="176.99" y="500.00" width="4.00" height="4.00" fill="#00f0f4"/>
<rect x="182.68" y="506.15" width="4" height="0.6" fill="#5a0c0c" fill-opacity="0.55"/>
<rect x="182.68" y="507.1" width="4" height="2.3" fill="#137e88"/>
<rect x="182.68" y="500.00" width="4.00" height="4.00" fill="#137e88"/>
<rect x="188.38" y="506.15" width="4" height="0.6" fill="#5a0c0c" fill-opacity="0.55"/>
<rect x="188.38" y="507.1" width="4" height="2.3" fill="#137e88"/>
<rect x="194.07" y="506.15" width="4" height="0.6" fill="#5a0c0c" fill-opacity="0.55"/>
<rect x="194.07" y="507.1" width="4" height="2.3" fill="#137e88"/>
<rect x="205.45" y="506.15" width="4" height="0.6" fill="#5a0c0c" fill-opacity="0.55"/>
<rect x="205.45" y="507.1" width="4" height="2.3" fill="#ff6ab8"/>
<rect x="211.15" y="506.15" width="4" height="0.6" fill="#5a0c0c" fill-opacity="0.55"/>
<rect x="211.15" y="507.1" width="4" height="2.3" fill="#ff6ab8"/>
<rect x="216.84" y="506.15" width="4" height="0.6" fill="#5a0c0c" fill-opacity="0.55"/>
<rect x="216.84" y="507.1" width="4" height="2.3" fill="#ff6ab8"/>
<rect x="222.53" y="506.15" width="4" height="0.6" fill="#5a0c0c" fill-opacity="0.55"/>
<rect x="222.53" y="507.1" width="4" height="2.3" fill="#ff6ab8"/>
<rect x="228.23" y="506.15" width="4" height="0.6" fill="#5a0c0c" fill-opacity="0.55"/>
<rect x="228.23" y="507.1" width="4" height="2.3" fill="#ff6ab8"/>
<rect x="233.92" y="506.15" width="4" height="0.6" fill="#5a0c0c" fill-opacity="0.55"/>
<rect x="233.92" y="507.1" width="4" height="2.3" fill="#ff6ab8"/>
<rect x="233.92" y="500.00" width="4.00" height="4.00" fill="#ff6ab8"/>
<rect x="239.61" y="506.15" width="4" height="0.6" fill="#5a0c0c" fill-opacity="0.55"/>
<rect x="239.61" y="507.1" width="4" height="2.3" fill="#ff6ab8"/>
<rect x="239.61" y="500.00" width="4.00" height="4.00" fill="#ff6ab8"/>
<rect x="245.31" y="506.15" width="4" height="0.6" fill="#5a0c0c" fill-opacity="0.55"/>
<rect x="245.31" y="507.1" width="4" height="2.3" fill="#86406a"/>
<rect x="245.31" y="500.00" width="4.00" height="4.00" fill="#86406a"/>
<rect x="251.00" y="506.15" width="4" height="0.6" fill="#5a0c0c" fill-opacity="0.55"/>
<rect x="251.00" y="507.1" width="4" height="2.3" fill="#86406a"/>
<rect x="251.00" y="500.00" width="4.00" height="4.00" fill="#86406a"/>
<rect x="256.69" y="506.15" width="4" height="0.6" fill="#5a0c0c" fill-opacity="0.55"/>
<rect x="256.69" y="507.1" width="4" height="2.3" fill="#86406a"/>
<rect x="256.69" y="500.00" width="4.00" height="4.00" fill="#86406a"/>
<rect x="262.38" y="506.15" width="4" height="0.6" fill="#5a0c0c" fill-opacity="0.55"/>
<rect x="262.38" y="507.1" width="4" height="2.3" fill="#86406a"/>
<rect x="262.38" y="500.00" width="4.00" height="4.00" fill="#86406a"/>
<rect x="268.08" y="506.15" width="4" height="0.6" fill="#5a0c0c" fill-opacity="0.55"/>
<rect x="268.08" y="507.1" width="4" height="2.3" fill="#86406a"/>
<rect x="268.08" y="500.00" width="4.00" height="4.00" fill="#86406a"/>
<rect x="273.77" y="506.15" width="4" height="0.6" fill="#5a0c0c" fill-opacity="0.55"/>
<rect x="273.77" y="507.1" width="4" height="2.3" fill="#ff6ab8"/>
<rect x="273.77" y="500.00" width="4.00" height="4.00" fill="#ff6ab8"/>
<rect x="279.46" y="506.15" width="4" height="0.6" fill="#5a0c0c" fill-opacity="0.55"/>
<rect x="279.46" y="507.1" width="4" height="2.3" fill="#ff6ab8"/>
<rect x="279.46" y="500.00" width="4.00" height="4.00" fill="#ff6ab8"/>
<rect x="285.16" y="506.15" width="4" height="0.6" fill="#5a0c0c" fill-opacity="0.55"/>
<rect x="285.16" y="507.1" width="4" height="2.3" fill="#86406a"/>
<rect x="285.16" y="500.00" width="4.00" height="4.00" fill="#86406a"/>
<rect x="290.85" y="506.15" width="4" height="0.6" fill="#5a0c0c" fill-opacity="0.55"/>
<rect x="290.85" y="507.1" width="4" height="2.3" fill="#ff6ab8"/>
<rect x="290.85" y="500.00" width="4.00" height="4.00" fill="#ff6ab8"/>
<rect x="296.54" y="506.15" width="4" height="0.6" fill="#5a0c0c" fill-opacity="0.55"/>
<rect x="296.54" y="507.1" width="4" height="2.3" fill="#86406a"/>
<rect x="296.54" y="500.00" width="4.00" height="4.00" fill="#86406a"/>
<rect x="302.24" y="506.15" width="4" height="0.6" fill="#5a0c0c" fill-opacity="0.55"/>
<rect x="302.24" y="507.1" width="4" height="2.3" fill="#ff6ab8"/>
<rect x="302.24" y="500.00" width="4.00" height="4.00" fill="#ff6ab8"/>
<rect x="307.93" y="506.15" width="4" height="0.6" fill="#5a0c0c" fill-opacity="0.55"/>
<rect x="307.93" y="507.1" width="4" height="2.3" fill="#ff6ab8"/>
<rect x="307.93" y="500.00" width="4.00" height="4.00" fill="#ff6ab8"/>
<rect x="313.62" y="506.15" width="4" height="0.6" fill="#5a0c0c" fill-opacity="0.55"/>
<rect x="313.62" y="507.1" width="4" height="2.3" fill="#ff6ab8"/>
<rect x="313.62" y="500.00" width="4.00" height="4.00" fill="#ff6ab8"/>
<rect x="319.31" y="506.15" width="4" height="0.6" fill="#5a0c0c" fill-opacity="0.55"/>
<rect x="319.31" y="507.1" width="4" height="2.3" fill="#86406a"/>
<rect x="319.31" y="500.00" width="4.00" height="4.00" fill="#86406a"/>
<rect x="325.01" y="506.15" width="4" height="0.6" fill="#5a0c0c" fill-opacity="0.55"/>
<rect x="325.01" y="507.1" width="4" height="2.3" fill="#86406a"/>
<rect x="325.01" y="500.00" width="4.00" height="4.00" fill="#86406a"/>
<rect x="330.70" y="506.15" width="4" height="0.6" fill="#5a0c0c" fill-opacity="0.55"/>
<rect x="330.70" y="507.1" width="4" height="2.3" fill="#86406a"/>
<rect x="336.39" y="506.15" width="4" height="0.6" fill="#5a0c0c" fill-opacity="0.55"/>
<rect x="336.39" y="507.1" width="4" height="2.3" fill="#ff6ab8"/>
<rect x="342.09" y="506.15" width="4" height="0.6" fill="#5a0c0c" fill-opacity="0.55"/>
<rect x="342.09" y="507.1" width="4" height="2.3" fill="#86406a"/>
<rect x="347.78" y="506.15" width="4" height="0.6" fill="#5a0c0c" fill-opacity="0.55"/>
<rect x="347.78" y="507.1" width="4" height="2.3" fill="#86406a"/>
<rect x="353.47" y="506.15" width="4" height="0.6" fill="#5a0c0c" fill-opacity="0.55"/>
<rect x="353.47" y="507.1" width="4" height="2.3" fill="#86406a"/>
<rect x="364.86" y="506.15" width="4" height="0.6" fill="#5a0c0c" fill-opacity="0.55"/>
<rect x="364.86" y="507.1" width="4" height="2.3" fill="#00f0f4"/>
<rect x="370.55" y="506.15" width="4" height="0.6" fill="#5a0c0c" fill-opacity="0.55"/>
<rect x="370.55" y="507.1" width="4" height="2.3" fill="#00f0f4"/>
<rect x="376.24" y="506.15" width="4" height="0.6" fill="#5a0c0c" fill-opacity="0.55"/>
<rect x="376.24" y="507.1" width="4" height="2.3" fill="#00f0f4"/>
<rect x="376.24" y="500.00" width="4.00" height="4.00" fill="#00f0f4"/>
<rect x="381.94" y="506.15" width="4" height="0.6" fill="#5a0c0c" fill-opacity="0.55"/>
<rect x="381.94" y="507.1" width="4" height="2.3" fill="#00f0f4"/>
<rect x="381.94" y="500.00" width="4.00" height="4.00" fill="#00f0f4"/>
<rect x="387.63" y="506.15" width="4" height="0.6" fill="#5a0c0c" fill-opacity="0.55"/>
<rect x="387.63" y="507.1" width="4" height="2.3" fill="#00f0f4"/>
<rect x="387.63" y="500.00" width="4.00" height="4.00" fill="#00f0f4"/>
<rect x="393.32" y="506.15" width="4" height="0.6" fill="#5a0c0c" fill-opacity="0.55"/>
<rect x="393.32" y="507.1" width="4" height="2.3" fill="#137e88"/>
<rect x="393.32" y="500.00" width="4.00" height="4.00" fill="#137e88"/>
<rect x="399.02" y="506.15" width="4" height="0.6" fill="#5a0c0c" fill-opacity="0.55"/>
<rect x="399.02" y="507.1" width="4" height="2.3" fill="#137e88"/>
<rect x="404.71" y="506.15" width="4" height="0.6" fill="#5a0c0c" fill-opacity="0.55"/>
<rect x="404.71" y="507.1" width="4" height="2.3" fill="#137e88"/>
<rect x="410.40" y="506.15" width="4" height="0.6" fill="#5a0c0c" fill-opacity="0.55"/>
<rect x="410.40" y="507.1" width="4" height="2.3" fill="#137e88"/>
<rect x="416.10" y="506.15" width="4" height="0.6" fill="#5a0c0c" fill-opacity="0.55"/>
<rect x="416.10" y="507.1" width="4" height="2.3" fill="#137e88"/>
<rect x="421.79" y="506.15" width="4" height="0.6" fill="#5a0c0c" fill-opacity="0.55"/>
<rect x="421.79" y="507.1" width="4" height="2.3" fill="#00f0f4"/>
<rect x="427.48" y="506.15" width="4" height="0.6" fill="#5a0c0c" fill-opacity="0.55"/>
<rect x="427.48" y="507.1" width="4" height="2.3" fill="#137e88"/>
<rect x="433.17" y="506.15" width="4" height="0.6" fill="#5a0c0c" fill-opacity="0.55"/>
<rect x="433.17" y="507.1" width="4" height="2.3" fill="#137e88"/>
<rect x="444.56" y="506.15" width="4" height="0.6" fill="#5a0c0c" fill-opacity="0.55"/>
<rect x="444.56" y="507.1" width="4" height="2.3" fill="#ff6ab8"/>
<rect x="450.25" y="506.15" width="4" height="0.6" fill="#5a0c0c" fill-opacity="0.55"/>
<rect x="450.25" y="507.1" width="4" height="2.3" fill="#00f0f4"/>
<rect x="455.95" y="506.15" width="4" height="0.6" fill="#5a0c0c" fill-opacity="0.55"/>
<rect x="455.95" y="507.1" width="4" height="2.3" fill="#00f0f4"/>
<rect x="461.64" y="506.15" width="4" height="0.6" fill="#5a0c0c" fill-opacity="0.55"/>
<rect x="461.64" y="507.1" width="4" height="2.3" fill="#00f0f4"/>
<rect x="467.33" y="506.15" width="4" height="0.6" fill="#5a0c0c" fill-opacity="0.55"/>
<rect x="467.33" y="507.1" width="4" height="2.3" fill="#137e88"/>
<rect x="473.03" y="506.15" width="4" height="0.6" fill="#5a0c0c" fill-opacity="0.55"/>
<rect x="473.03" y="507.1" width="4" height="2.3" fill="#137e88"/>
<rect x="484.41" y="506.15" width="4" height="0.6" fill="#5a0c0c" fill-opacity="0.55"/>
<rect x="484.41" y="507.1" width="4" height="2.3" fill="#ff6ab8"/>
<rect x="490.10" y="506.15" width="4" height="0.6" fill="#5a0c0c" fill-opacity="0.55"/>
<rect x="490.10" y="507.1" width="4" height="2.3" fill="#ff6ab8"/>
<rect x="495.80" y="506.15" width="4" height="0.6" fill="#5a0c0c" fill-opacity="0.55"/>
<rect x="495.80" y="507.1" width="4" height="2.3" fill="#00f0f4"/>
<rect x="501.49" y="506.15" width="4" height="0.6" fill="#5a0c0c" fill-opacity="0.55"/>
<rect x="501.49" y="507.1" width="4" height="2.3" fill="#00f0f4"/>
<rect x="507.18" y="506.15" width="4" height="0.6" fill="#5a0c0c" fill-opacity="0.55"/>
<rect x="507.18" y="507.1" width="4" height="2.3" fill="#86406a"/>
<rect x="512.88" y="506.15" width="4" height="0.6" fill="#5a0c0c" fill-opacity="0.55"/>
<rect x="512.88" y="507.1" width="4" height="2.3" fill="#ff6ab8"/>
<rect x="518.57" y="506.15" width="4" height="0.6" fill="#5a0c0c" fill-opacity="0.55"/>
<rect x="518.57" y="507.1" width="4" height="2.3" fill="#ff6ab8"/>
<rect x="524.26" y="506.15" width="4" height="0.6" fill="#5a0c0c" fill-opacity="0.55"/>
<rect x="524.26" y="507.1" width="4" height="2.3" fill="#137e88"/>
<rect x="529.96" y="506.15" width="4" height="0.6" fill="#5a0c0c" fill-opacity="0.55"/>
<rect x="529.96" y="507.1" width="4" height="2.3" fill="#00f0f4"/>
<rect x="535.65" y="506.15" width="4" height="0.6" fill="#5a0c0c" fill-opacity="0.55"/>
<rect x="535.65" y="507.1" width="4" height="2.3" fill="#137e88"/>
<rect x="541.34" y="506.15" width="4" height="0.6" fill="#5a0c0c" fill-opacity="0.55"/>
<rect x="541.34" y="507.1" width="4" height="2.3" fill="#00f0f4"/>
<rect x="547.03" y="506.15" width="4" height="0.6" fill="#5a0c0c" fill-opacity="0.55"/>
<rect x="547.03" y="507.1" width="4" height="2.3" fill="#00f0f4"/>
<rect x="552.73" y="506.15" width="4" height="0.6" fill="#5a0c0c" fill-opacity="0.55"/>
<rect x="552.73" y="507.1" width="4" height="2.3" fill="#00f0f4"/>
<rect x="558.42" y="506.15" width="4" height="0.6" fill="#5a0c0c" fill-opacity="0.55"/>
<rect x="558.42" y="507.1" width="4" height="2.3" fill="#137e88"/>
<rect x="564.11" y="506.15" width="4" height="0.6" fill="#5a0c0c" fill-opacity="0.55"/>
<rect x="564.11" y="507.1" width="4" height="2.3" fill="#137e88"/>
<rect x="569.81" y="506.15" width="4" height="0.6" fill="#5a0c0c" fill-opacity="0.55"/>
<rect x="569.81" y="507.1" width="4" height="2.3" fill="#00f0f4"/>
<rect x="575.50" y="506.15" width="4" height="0.6" fill="#5a0c0c" fill-opacity="0.55"/>
<rect x="575.50" y="507.1" width="4" height="2.3" fill="#137e88"/>
<rect x="581.19" y="506.15" width="4" height="0.6" fill="#5a0c0c" fill-opacity="0.55"/>
<rect x="581.19" y="507.1" width="4" height="2.3" fill="#137e88"/>
<rect x="586.89" y="506.15" width="4" height="0.6" fill="#5a0c0c" fill-opacity="0.55"/>
<rect x="586.89" y="507.1" width="4" height="2.3" fill="#ff6ab8"/>
<rect x="592.58" y="506.15" width="4" height="0.6" fill="#5a0c0c" fill-opacity="0.55"/>
<rect x="592.58" y="507.1" width="4" height="2.3" fill="#ff6ab8"/>
<rect x="598.27" y="506.15" width="4" height="0.6" fill="#5a0c0c" fill-opacity="0.55"/>
<rect x="598.27" y="507.1" width="4" height="2.3" fill="#ff6ab8"/>
<rect x="598.27" y="500.00" width="4.00" height="4.00" fill="#ff6ab8"/>
<rect x="603.97" y="506.15" width="4" height="0.6" fill="#5a0c0c" fill-opacity="0.55"/>
<rect x="603.97" y="507.1" width="4" height="2.3" fill="#ff6ab8"/>
<rect x="603.97" y="500.00" width="4.00" height="4.00" fill="#ff6ab8"/>
<rect x="609.66" y="506.15" width="4" height="0.6" fill="#5a0c0c" fill-opacity="0.55"/>
<rect x="609.66" y="507.1" width="4" height="2.3" fill="#ff6ab8"/>
<rect x="609.66" y="500.00" width="4.00" height="4.00" fill="#ff6ab8"/>
<rect x="615.35" y="506.15" width="4" height="0.6" fill="#5a0c0c" fill-opacity="0.55"/>
<rect x="615.35" y="507.1" width="4" height="2.3" fill="#86406a"/>
<rect x="615.35" y="500.00" width="4.00" height="4.00" fill="#86406a"/>
<rect x="621.04" y="506.15" width="4" height="0.6" fill="#5a0c0c" fill-opacity="0.55"/>
<rect x="621.04" y="507.1" width="4" height="2.3" fill="#86406a"/>
<rect x="626.74" y="506.15" width="4" height="0.6" fill="#5a0c0c" fill-opacity="0.55"/>
<rect x="626.74" y="507.1" width="4" height="2.3" fill="#86406a"/>
<rect x="632.43" y="506.15" width="4" height="0.6" fill="#5a0c0c" fill-opacity="0.55"/>
<rect x="632.43" y="507.1" width="4" height="2.3" fill="#86406a"/>
<rect x="638.12" y="506.15" width="4" height="0.6" fill="#5a0c0c" fill-opacity="0.55"/>
<rect x="638.12" y="507.1" width="4" height="2.3" fill="#ff6ab8"/>
<rect x="643.82" y="506.15" width="4" height="0.6" fill="#5a0c0c" fill-opacity="0.55"/>
<rect x="643.82" y="507.1" width="4" height="2.3" fill="#00f0f4"/>
<rect x="655.20" y="506.15" width="4" height="0.6" fill="#5a0c0c" fill-opacity="0.55"/>
<rect x="655.20" y="507.1" width="4" height="2.3" fill="#ff6ab8"/>
<rect x="660.89" y="506.15" width="4" height="0.6" fill="#5a0c0c" fill-opacity="0.55"/>
<rect x="660.89" y="507.1" width="4" height="2.3" fill="#ff6ab8"/>
<rect x="666.59" y="506.15" width="4" height="0.6" fill="#5a0c0c" fill-opacity="0.55"/>
<rect x="666.59" y="507.1" width="4" height="2.3" fill="#ff6ab8"/>
<rect x="672.28" y="506.15" width="4" height="0.6" fill="#5a0c0c" fill-opacity="0.55"/>
<rect x="672.28" y="507.1" width="4" height="2.3" fill="#ff6ab8"/>
<rect x="672.28" y="500.00" width="4.00" height="4.00" fill="#ff6ab8"/>
<rect x="677.97" y="506.15" width="4" height="0.6" fill="#5a0c0c" fill-opacity="0.55"/>
<rect x="677.97" y="507.1" width="4" height="2.3" fill="#ff6ab8"/>
<rect x="677.97" y="500.00" width="4.00" height="4.00" fill="#ff6ab8"/>
<rect x="683.67" y="506.15" width="4" height="0.6" fill="#5a0c0c" fill-opacity="0.55"/>
<rect x="683.67" y="507.1" width="4" height="2.3" fill="#86406a"/>
<rect x="683.67" y="500.00" width="4.00" height="4.00" fill="#86406a"/>
<rect x="689.36" y="506.15" width="4" height="0.6" fill="#5a0c0c" fill-opacity="0.55"/>
<rect x="689.36" y="507.1" width="4" height="2.3" fill="#86406a"/>
<rect x="695.05" y="506.15" width="4" height="0.6" fill="#5a0c0c" fill-opacity="0.55"/>
<rect x="695.05" y="507.1" width="4" height="2.3" fill="#86406a"/>
<rect x="700.75" y="506.15" width="4" height="0.6" fill="#5a0c0c" fill-opacity="0.55"/>
<rect x="700.75" y="507.1" width="4" height="2.3" fill="#00f0f4"/>
<rect x="706.44" y="506.15" width="4" height="0.6" fill="#5a0c0c" fill-opacity="0.55"/>
<rect x="706.44" y="507.1" width="4" height="2.3" fill="#00f0f4"/>
<rect x="712.13" y="506.15" width="4" height="0.6" fill="#5a0c0c" fill-opacity="0.55"/>
<rect x="712.13" y="507.1" width="4" height="2.3" fill="#00f0f4"/>
<rect x="717.83" y="506.15" width="4" height="0.6" fill="#5a0c0c" fill-opacity="0.55"/>
<rect x="717.83" y="507.1" width="4" height="2.3" fill="#00f0f4"/>
<rect x="717.83" y="500.00" width="4.00" height="4.00" fill="#00f0f4"/>
<rect x="723.52" y="506.15" width="4" height="0.6" fill="#5a0c0c" fill-opacity="0.55"/>
<rect x="723.52" y="507.1" width="4" height="2.3" fill="#00f0f4"/>
<rect x="723.52" y="500.00" width="4.00" height="4.00" fill="#00f0f4"/>
<rect x="729.21" y="506.15" width="4" height="0.6" fill="#5a0c0c" fill-opacity="0.55"/>
<rect x="729.21" y="507.1" width="4" height="2.3" fill="#00f0f4"/>
<rect x="729.21" y="500.00" width="4.00" height="4.00" fill="#00f0f4"/>
<rect x="734.90" y="506.15" width="4" height="0.6" fill="#5a0c0c" fill-opacity="0.55"/>
<rect x="734.90" y="507.1" width="4" height="2.3" fill="#137e88"/>
<rect x="734.90" y="500.00" width="4.00" height="4.00" fill="#137e88"/>
<rect x="740.60" y="506.15" width="4" height="0.6" fill="#5a0c0c" fill-opacity="0.55"/>
<rect x="740.60" y="507.1" width="4" height="2.3" fill="#137e88"/>
<rect x="746.29" y="506.15" width="4" height="0.6" fill="#5a0c0c" fill-opacity="0.55"/>
<rect x="746.29" y="507.1" width="4" height="2.3" fill="#137e88"/>
<rect x="751.98" y="506.15" width="4" height="0.6" fill="#5a0c0c" fill-opacity="0.55"/>
<rect x="751.98" y="507.1" width="4" height="2.3" fill="#137e88"/>
<rect x="757.68" y="506.15" width="4" height="0.6" fill="#5a0c0c" fill-opacity="0.55"/>
<rect x="757.68" y="507.1" width="4" height="2.3" fill="#00f0f4"/>
<rect x="763.37" y="506.15" width="4" height="0.6" fill="#5a0c0c" fill-opacity="0.55"/>
<rect x="763.37" y="507.1" width="4" height="2.3" fill="#00f0f4"/>
<rect x="763.37" y="500.00" width="4.00" height="4.00" fill="#00f0f4"/>
<rect x="769.06" y="506.15" width="4" height="0.6" fill="#5a0c0c" fill-opacity="0.55"/>
<rect x="769.06" y="507.1" width="4" height="2.3" fill="#137e88"/>
<rect x="769.06" y="500.00" width="4.00" height="4.00" fill="#137e88"/>
<rect x="774.75" y="506.15" width="4" height="0.6" fill="#5a0c0c" fill-opacity="0.55"/>
<rect x="774.75" y="507.1" width="4" height="2.3" fill="#00f0f4"/>
<rect x="774.75" y="500.00" width="4.00" height="4.00" fill="#00f0f4"/>
<rect x="780.45" y="506.15" width="4" height="0.6" fill="#5a0c0c" fill-opacity="0.55"/>
<rect x="780.45" y="507.1" width="4" height="2.3" fill="#00f0f4"/>
<rect x="780.45" y="500.00" width="4.00" height="4.00" fill="#00f0f4"/>
<rect x="786.14" y="506.15" width="4" height="0.6" fill="#5a0c0c" fill-opacity="0.55"/>
<rect x="786.14" y="507.1" width="4" height="2.3" fill="#137e88"/>
<rect x="786.14" y="500.00" width="4.00" height="4.00" fill="#137e88"/>
<rect x="791.83" y="506.15" width="4" height="0.6" fill="#5a0c0c" fill-opacity="0.55"/>
<rect x="791.83" y="507.1" width="4" height="2.3" fill="#137e88"/>
<rect x="791.83" y="500.00" width="4.00" height="4.00" fill="#137e88"/>
<rect x="797.53" y="506.15" width="4" height="0.6" fill="#5a0c0c" fill-opacity="0.55"/>
<rect x="797.53" y="507.1" width="4" height="2.3" fill="#137e88"/>
<rect x="803.22" y="506.15" width="4" height="0.6" fill="#5a0c0c" fill-opacity="0.55"/>
<rect x="803.22" y="507.1" width="4" height="2.3" fill="#137e88"/>
<rect x="808.91" y="506.15" width="4" height="0.6" fill="#5a0c0c" fill-opacity="0.55"/>
<rect x="808.91" y="507.1" width="4" height="2.3" fill="#86406a"/>
<rect x="814.61" y="506.15" width="4" height="0.6" fill="#5a0c0c" fill-opacity="0.55"/>
<rect x="814.61" y="507.1" width="4" height="2.3" fill="#ff6ab8"/>
<rect x="820.30" y="506.15" width="4" height="0.6" fill="#5a0c0c" fill-opacity="0.55"/>
<rect x="820.30" y="507.1" width="4" height="2.3" fill="#00f0f4"/>
<rect x="820.30" y="500.00" width="4.00" height="4.00" fill="#00f0f4"/>
<rect x="825.99" y="506.15" width="4" height="0.6" fill="#5a0c0c" fill-opacity="0.55"/>
<rect x="825.99" y="507.1" width="4" height="2.3" fill="#00f0f4"/>
<rect x="825.99" y="500.00" width="4.00" height="4.00" fill="#00f0f4"/>
<rect x="825.99" y="492.40" width="4.00" height="4.00" fill="#00f0f4"/>
<rect x="831.68" y="506.15" width="4" height="0.6" fill="#5a0c0c" fill-opacity="0.55"/>
<rect x="831.68" y="507.1" width="4" height="2.3" fill="#00f0f4"/>
<rect x="831.68" y="500.00" width="4.00" height="4.00" fill="#00f0f4"/>
<rect x="831.68" y="492.40" width="4.00" height="4.00" fill="#00f0f4"/>
<rect x="831.68" y="484.80" width="4.00" height="4.00" fill="#00f0f4"/>
<rect x="837.38" y="506.15" width="4" height="0.6" fill="#5a0c0c" fill-opacity="0.55"/>
<rect x="837.38" y="507.1" width="4" height="2.3" fill="#00f0f4"/>
<rect x="837.38" y="500.00" width="4.00" height="4.00" fill="#00f0f4"/>
<rect x="837.38" y="492.40" width="4.00" height="4.00" fill="#00f0f4"/>
<rect x="837.38" y="484.80" width="4.00" height="4.00" fill="#00f0f4"/>
<rect x="837.38" y="477.20" width="4.00" height="4.00" fill="#00f0f4"/>
<rect x="843.07" y="506.15" width="4" height="0.6" fill="#5a0c0c" fill-opacity="0.55"/>
<rect x="843.07" y="507.1" width="4" height="2.3" fill="#00f0f4"/>
<rect x="843.07" y="500.00" width="4.00" height="4.00" fill="#00f0f4"/>
<rect x="843.07" y="492.40" width="4.00" height="4.00" fill="#00f0f4"/>
<rect x="843.07" y="484.80" width="4.00" height="4.00" fill="#00f0f4"/>
<rect x="843.07" y="477.20" width="4.00" height="4.00" fill="#00f0f4"/>
<rect x="848.76" y="506.15" width="4" height="0.6" fill="#5a0c0c" fill-opacity="0.55"/>
<rect x="848.76" y="507.1" width="4" height="2.3" fill="#137e88"/>
<rect x="848.76" y="500.00" width="4.00" height="4.00" fill="#137e88"/>
<rect x="848.76" y="492.40" width="4.00" height="4.00" fill="#137e88"/>
<rect x="848.76" y="484.80" width="4.00" height="4.00" fill="#137e88"/>
<rect x="854.46" y="506.15" width="4" height="0.6" fill="#5a0c0c" fill-opacity="0.55"/>
<rect x="854.46" y="507.1" width="4" height="2.3" fill="#137e88"/>
<rect x="854.46" y="500.00" width="4.00" height="4.00" fill="#137e88"/>
<rect x="854.46" y="492.40" width="4.00" height="4.00" fill="#137e88"/>
<rect x="854.46" y="484.80" width="4.00" height="4.00" fill="#137e88"/>
<rect x="860.15" y="506.15" width="4" height="0.6" fill="#5a0c0c" fill-opacity="0.55"/>
<rect x="860.15" y="507.1" width="4" height="2.3" fill="#137e88"/>
<rect x="860.15" y="500.00" width="4.00" height="4.00" fill="#137e88"/>
<rect x="860.15" y="492.40" width="4.00" height="4.00" fill="#137e88"/>
<rect x="865.84" y="506.15" width="4" height="0.6" fill="#5a0c0c" fill-opacity="0.55"/>
<rect x="865.84" y="507.1" width="4" height="2.3" fill="#137e88"/>
<rect x="865.84" y="500.00" width="4.00" height="4.00" fill="#137e88"/>
<rect x="865.84" y="492.40" width="4.00" height="4.00" fill="#137e88"/>
<rect x="871.54" y="506.15" width="4" height="0.6" fill="#5a0c0c" fill-opacity="0.55"/>
<rect x="871.54" y="507.1" width="4" height="2.3" fill="#137e88"/>
<rect x="871.54" y="500.00" width="4.00" height="4.00" fill="#137e88"/>
<rect x="871.54" y="492.40" width="4.00" height="4.00" fill="#137e88"/>
<rect x="877.23" y="506.15" width="4" height="0.6" fill="#5a0c0c" fill-opacity="0.55"/>
<rect x="877.23" y="507.1" width="4" height="2.3" fill="#137e88"/>
<rect x="877.23" y="500.00" width="4.00" height="4.00" fill="#137e88"/>
<rect x="877.23" y="492.40" width="4.00" height="4.00" fill="#137e88"/>
<rect x="882.92" y="506.15" width="4" height="0.6" fill="#5a0c0c" fill-opacity="0.55"/>
<rect x="882.92" y="507.1" width="4" height="2.3" fill="#137e88"/>
<rect x="882.92" y="500.00" width="4.00" height="4.00" fill="#137e88"/>
<rect x="888.62" y="506.15" width="4" height="0.6" fill="#5a0c0c" fill-opacity="0.55"/>
<rect x="888.62" y="507.1" width="4" height="2.3" fill="#137e88"/>
<rect x="894.31" y="506.15" width="4" height="0.6" fill="#5a0c0c" fill-opacity="0.55"/>
<rect x="894.31" y="507.1" width="4" height="2.3" fill="#86406a"/>
<rect x="900.00" y="506.15" width="4" height="0.6" fill="#5a0c0c" fill-opacity="0.55"/>
<rect x="900.00" y="507.1" width="4" height="2.3" fill="#ff6ab8"/>
<rect x="905.69" y="506.15" width="4" height="0.6" fill="#5a0c0c" fill-opacity="0.55"/>
<rect x="905.69" y="507.1" width="4" height="2.3" fill="#ff6ab8"/>
<rect x="905.69" y="500.00" width="4.00" height="4.00" fill="#ff6ab8"/>
<rect x="911.39" y="506.15" width="4" height="0.6" fill="#5a0c0c" fill-opacity="0.55"/>
<rect x="911.39" y="507.1" width="4" height="2.3" fill="#ff6ab8"/>
<rect x="911.39" y="500.00" width="4.00" height="4.00" fill="#ff6ab8"/>
<rect x="911.39" y="492.40" width="4.00" height="4.00" fill="#ff6ab8"/>
<rect x="917.08" y="506.15" width="4" height="0.6" fill="#5a0c0c" fill-opacity="0.55"/>
<rect x="917.08" y="507.1" width="4" height="2.3" fill="#ff6ab8"/>
<rect x="917.08" y="500.00" width="4.00" height="4.00" fill="#ff6ab8"/>
<rect x="917.08" y="492.40" width="4.00" height="4.00" fill="#ff6ab8"/>
<rect x="922.77" y="506.15" width="4" height="0.6" fill="#5a0c0c" fill-opacity="0.55"/>
<rect x="922.77" y="507.1" width="4" height="2.3" fill="#ff6ab8"/>
<rect x="922.77" y="500.00" width="4.00" height="4.00" fill="#ff6ab8"/>
<rect x="922.77" y="492.40" width="4.00" height="4.00" fill="#ff6ab8"/>
<rect x="928.47" y="506.15" width="4" height="0.6" fill="#5a0c0c" fill-opacity="0.55"/>
<rect x="928.47" y="507.1" width="4" height="2.3" fill="#86406a"/>
<rect x="928.47" y="500.00" width="4.00" height="4.00" fill="#86406a"/>
<rect x="928.47" y="492.40" width="4.00" height="4.00" fill="#86406a"/>
<rect x="934.16" y="506.15" width="4" height="0.6" fill="#5a0c0c" fill-opacity="0.55"/>
<rect x="934.16" y="507.1" width="4" height="2.3" fill="#ff6ab8"/>
<rect x="934.16" y="500.00" width="4.00" height="4.00" fill="#ff6ab8"/>
<rect x="934.16" y="492.40" width="4.00" height="4.00" fill="#ff6ab8"/>
<rect x="939.85" y="506.15" width="4" height="0.6" fill="#5a0c0c" fill-opacity="0.55"/>
<rect x="939.85" y="507.1" width="4" height="2.3" fill="#86406a"/>
<rect x="939.85" y="500.00" width="4.00" height="4.00" fill="#86406a"/>
<rect x="939.85" y="492.40" width="4.00" height="4.00" fill="#86406a"/>
<rect x="945.54" y="506.15" width="4" height="0.6" fill="#5a0c0c" fill-opacity="0.55"/>
<rect x="945.54" y="507.1" width="4" height="2.3" fill="#86406a"/>
<rect x="945.54" y="500.00" width="4.00" height="4.00" fill="#86406a"/>
<rect x="945.54" y="492.40" width="4.00" height="4.00" fill="#86406a"/>
<rect x="951.24" y="506.15" width="4" height="0.6" fill="#5a0c0c" fill-opacity="0.55"/>
<rect x="951.24" y="507.1" width="4" height="2.3" fill="#86406a"/>
<rect x="951.24" y="500.00" width="4.00" height="4.00" fill="#86406a"/>
<rect x="951.24" y="492.40" width="4.00" height="4.00" fill="#86406a"/>
<rect x="956.93" y="506.15" width="4" height="0.6" fill="#5a0c0c" fill-opacity="0.55"/>
<rect x="956.93" y="507.1" width="4" height="2.3" fill="#86406a"/>
<rect x="956.93" y="500.00" width="4.00" height="4.00" fill="#86406a"/>
<rect x="956.93" y="492.40" width="4.00" height="4.00" fill="#86406a"/>
<rect x="962.62" y="506.15" width="4" height="0.6" fill="#5a0c0c" fill-opacity="0.55"/>
<rect x="962.62" y="507.1" width="4" height="2.3" fill="#86406a"/>
<rect x="962.62" y="500.00" width="4.00" height="4.00" fill="#86406a"/>
<rect x="968.32" y="506.15" width="4" height="0.6" fill="#5a0c0c" fill-opacity="0.55"/>
<rect x="968.32" y="507.1" width="4" height="2.3" fill="#86406a"/>
<rect x="968.32" y="500.00" width="4.00" height="4.00" fill="#86406a"/>
<rect x="974.01" y="506.15" width="4" height="0.6" fill="#5a0c0c" fill-opacity="0.55"/>
<rect x="974.01" y="507.1" width="4" height="2.3" fill="#86406a"/>
<rect x="979.70" y="506.15" width="4" height="0.6" fill="#5a0c0c" fill-opacity="0.55"/>
<rect x="979.70" y="507.1" width="4" height="2.3" fill="#86406a"/>
<rect x="985.40" y="506.15" width="4" height="0.6" fill="#5a0c0c" fill-opacity="0.55"/>
<rect x="985.40" y="507.1" width="4" height="2.3" fill="#86406a"/>
<rect x="757.98" y="502" width="3.4" height="1.8" fill="#00f0f4"/>
<rect x="6.20" y="24.90" width="4.00" height="4.00" fill="#00f0f4"/>
<rect x="6.20" y="32.10" width="4.00" height="4.00" fill="#00f0f4"/>
<rect x="6.20" y="39.90" width="4.00" height="4.00" fill="#00f0f4"/>
<rect x="11.89" y="24.90" width="4.00" height="4.00" fill="#137e88"/>
<rect x="11.89" y="32.10" width="4.00" height="4.00" fill="#137e88"/>
<rect x="34" y="509.2" width="957.2" height="1.3" fill="#74da00"/>
<rect x="34" y="510.5" width="960.2" height="1.6" fill="#12061e"/>
<rect x="34" y="512.1" width="960.2" height="6.8" fill="#74e200"/>
<rect x="34" y="512.1" width="960.2" height="1.4" fill="#7af000"/>
<rect x="677.5" y="512.1" width="34" height="6.8" fill="#4d8e10"/>
<rect x="34" y="518.9" width="960.2" height="0.9" fill="#14101c"/>
<rect x="0" y="522.3" width="996" height="1.5" fill="#8a8a8a"/>
<rect x="994.6" y="0" width="1.5" height="523.8" fill="#8a8a8a"/>
<rect x="47.40" y="523.2" width="1" height="3" fill="#c4c4c4"/>
<text class="lb" x="47.90" y="534.1" font-size="6" text-anchor="middle">04:00</text>
<rect x="90.12" y="523.2" width="1" height="3" fill="#c4c4c4"/>
<text class="lb" x="90.62" y="534.1" font-size="6" text-anchor="middle">04:15</text>
<rect x="132.84" y="523.2" width="1" height="3" fill="#c4c4c4"/>
<text class="lb" x="133.34" y="534.1" font-size="6" text-anchor="middle">04:30</text>
<rect x="175.56" y="523.2" width="1" height="3" fill="#c4c4c4"/>
<text class="lb" x="176.06" y="534.1" font-size="6" text-anchor="middle">04:45</text>
<rect x="218.28" y="523.2" width="1" height="3" fill="#c4c4c4"/>
<text class="lb" x="218.78" y="534.1" font-size="6" text-anchor="middle">05:00</text>
<rect x="261.00" y="523.2" width="1" height="3" fill="#c4c4c4"/>
<text class="lb" x="261.50" y="534.1" font-size="6" text-anchor="middle">05:15</text>
<rect x="303.72" y="523.2" width="1" height="3" fill="#c4c4c4"/>
<text class="lb" x="304.22" y="534.1" font-size="6" text-anchor="middle">05:30</text>
<rect x="346.44" y="523.2" width="1" height="3" fill="#c4c4c4"/>
<text class="lb" x="346.94" y="534.1" font-size="6" text-anchor="middle">05:45</text>
<rect x="389.16" y="523.2" width="1" height="3" fill="#c4c4c4"/>
<text class="lb" x="389.66" y="534.1" font-size="6" text-anchor="middle">06:00</text>
<rect x="431.88" y="523.2" width="1" height="3" fill="#c4c4c4"/>
<text class="lb" x="432.38" y="534.1" font-size="6" text-anchor="middle">06:15</text>
<rect x="474.60" y="523.2" width="1" height="3" fill="#c4c4c4"/>
<text class="lb" x="475.10" y="534.1" font-size="6" text-anchor="middle">06:30</text>
<rect x="517.32" y="523.2" width="1" height="3" fill="#c4c4c4"/>
<text class="lb" x="517.82" y="534.1" font-size="6" text-anchor="middle">06:45</text>
<rect x="560.04" y="523.2" width="1" height="3" fill="#c4c4c4"/>
<text class="lb" x="560.54" y="534.1" font-size="6" text-anchor="middle">07:00</text>
<rect x="602.76" y="523.2" width="1" height="3" fill="#c4c4c4"/>
<text class="lb" x="603.26" y="534.1" font-size="6" text-anchor="middle">07:15</text>
<rect x="645.48" y="523.2" width="1" height="3" fill="#c4c4c4"/>
<text class="lb" x="645.98" y="534.1" font-size="6" text-anchor="middle">07:30</text>
<rect x="688.20" y="523.2" width="1" height="3" fill="#c4c4c4"/>
<text class="lb" x="688.70" y="534.1" font-size="6" text-anchor="middle">07:45</text>
<rect x="730.92" y="523.2" width="1" height="3" fill="#c4c4c4"/>
<text class="lb" x="731.42" y="534.1" font-size="6" text-anchor="middle">08:00</text>
<rect x="773.64" y="523.2" width="1" height="3" fill="#c4c4c4"/>
<text class="lb" x="774.14" y="534.1" font-size="6" text-anchor="middle">08:15</text>
<rect x="816.36" y="523.2" width="1" height="3" fill="#c4c4c4"/>
<text class="lb" x="816.86" y="534.1" font-size="6" text-anchor="middle">08:30</text>
<rect x="859.08" y="523.2" width="1" height="3" fill="#c4c4c4"/>
<text class="lb" x="859.58" y="534.1" font-size="6" text-anchor="middle">08:45</text>
<rect x="901.80" y="523.2" width="1" height="3" fill="#c4c4c4"/>
<text class="lb" x="902.30" y="534.1" font-size="6" text-anchor="middle">09:00</text>
<rect x="944.52" y="523.2" width="1" height="3" fill="#c4c4c4"/>
<text class="lb" x="945.02" y="534.1" font-size="6" text-anchor="middle">09:15</text>
<rect x="987.24" y="523.2" width="1" height="3" fill="#c4c4c4"/>
<text class="lb" x="987.74" y="534.1" font-size="6" text-anchor="middle">09:30</text>
<rect x="996" y="513.94" width="2.2" height="0.9" fill="#b0b0b0"/>
<text class="lb" x="999.5" y="516.54" font-size="6">6266.00</text>
<rect x="996" y="485.73" width="2.2" height="0.9" fill="#b0b0b0"/>
<text class="lb" x="999.5" y="488.33" font-size="6">6268.00</text>
<rect x="996" y="457.52" width="2.2" height="0.9" fill="#b0b0b0"/>
<text class="lb" x="999.5" y="460.12" font-size="6">6270.00</text>
<rect x="996" y="429.31" width="2.2" height="0.9" fill="#b0b0b0"/>
<text class="lb" x="999.5" y="431.91" font-size="6">6272.00</text>
<rect x="996" y="401.10" width="2.2" height="0.9" fill="#b0b0b0"/>
<text class="lb" x="999.5" y="403.70" font-size="6">6274.00</text>
<rect x="996" y="372.90" width="2.2" height="0.9" fill="#b0b0b0"/>
<text class="lb" x="999.5" y="375.50" font-size="6">6276.00</text>
<rect x="996" y="344.69" width="2.2" height="0.9" fill="#b0b0b0"/>
<text class="lb" x="999.5" y="347.29" font-size="6">6278.00</text>
<rect x="996" y="316.48" width="2.2" height="0.9" fill="#b0b0b0"/>
<text class="lb" x="999.5" y="319.08" font-size="6">6280.00</text>
<rect x="996" y="288.27" width="2.2" height="0.9" fill="#b0b0b0"/>
<text class="lb" x="999.5" y="290.87" font-size="6">6282.00</text>
<rect x="996" y="260.06" width="2.2" height="0.9" fill="#b0b0b0"/>
<text class="lb" x="999.5" y="262.66" font-size="6">6284.00</text>
<rect x="996" y="231.86" width="2.2" height="0.9" fill="#b0b0b0"/>
<text class="lb" x="999.5" y="234.46" font-size="6">6286.00</text>
<rect x="996" y="203.65" width="2.2" height="0.9" fill="#b0b0b0"/>
<text class="lb" x="999.5" y="206.25" font-size="6">6288.00</text>
<rect x="996" y="175.44" width="2.2" height="0.9" fill="#b0b0b0"/>
<text class="lb" x="999.5" y="178.04" font-size="6">6290.00</text>
<rect x="996" y="147.23" width="2.2" height="0.9" fill="#b0b0b0"/>
<text class="lb" x="999.5" y="149.83" font-size="6">6292.00</text>
<rect x="996" y="119.02" width="2.2" height="0.9" fill="#b0b0b0"/>
<text class="lb" x="999.5" y="121.62" font-size="6">6294.00</text>
<rect x="996" y="90.82" width="2.2" height="0.9" fill="#b0b0b0"/>
<text class="lb" x="999.5" y="93.42" font-size="6">6296.00</text>
<rect x="996" y="62.61" width="2.2" height="0.9" fill="#b0b0b0"/>
<text class="lb" x="999.5" y="65.21" font-size="6">6298.00</text>
<rect x="996" y="34.40" width="2.2" height="0.9" fill="#b0b0b0"/>
<text class="lb" x="999.5" y="37.00" font-size="6">6300.00</text>
<rect x="996" y="6.19" width="2.2" height="0.9" fill="#b0b0b0"/>
<text class="lb" x="999.5" y="8.79" font-size="6">6302.00</text>
<polygon points="991.2,60.04 995.3,55.54 1022.6,55.54 1022.6,64.64 995.3,64.64" fill="#3b3b42" stroke="#b4b4b4" stroke-width="0.65"/>
<text class="tg" x="999.5" y="62.24" font-size="6">6298.25</text>
<polygon points="991.2,95.31 995.3,90.81 1022.6,90.81 1022.6,99.91 995.3,99.91" fill="#3b3b42" stroke="#b4b4b4" stroke-width="0.65"/>
<text class="tg" x="999.5" y="97.51" font-size="6">6295.75</text>
<polygon points="991.2,116.47 995.3,111.97 1022.6,111.97 1022.6,121.07 995.3,121.07" fill="#3b3b42" stroke="#b4b4b4" stroke-width="0.65"/>
<text class="tg" x="999.5" y="118.67" font-size="6">6294.25</text>
<polygon points="36.5,467 40.3,474.4 32.7,474.4" fill="#00f4fa"/>
<text class="cy" x="36.6" y="486.9" font-size="10.8" text-anchor="middle">Trend</text>
<circle cx="150.80" cy="387.30" r="3.2" fill="none" stroke="#00c6dc" stroke-width="1.15"/>
<circle cx="150.80" cy="387.30" r="1.3" fill="#00f4fa"/>
<circle cx="720.10" cy="302.30" r="3.2" fill="none" stroke="#00c6dc" stroke-width="1.15"/>
<circle cx="720.10" cy="302.30" r="1.3" fill="#00f4fa"/>
<circle cx="309.80" cy="414.60" r="2.75" fill="#00f4fa"/>
<path d="M315.80 423.00 V414.20 M314.20 415.90 L315.80 414.20 L317.40 415.90" stroke="#00d2d8" stroke-width="1.4" fill="none"/>
<text class="cy zz" x="315.80" y="432.90" font-size="10.8" text-anchor="middle">Z</text>
<circle cx="595.10" cy="350.70" r="2.75" fill="#00f4fa"/>
<path d="M600.40 363.30 V354.50 M598.80 356.20 L600.40 354.50 L602.00 356.20" stroke="#00d2d8" stroke-width="1.4" fill="none"/>
<text class="cy zz" x="600.40" y="373.40" font-size="10.8" text-anchor="middle">Z</text>
<polygon points="509.4,299.8 513.5,304 509.4,308.2 505.3,304" fill="#f6f200"/>
<polygon points="507.4,304 511.4,304 509.4,306" fill="#14141c"/>
<rect x="0" y="2.8" width="11.5" height="6.2" fill="#e0529c"/>
<rect x="11.5" y="2.8" width="22.5" height="6.2" fill="#a84a7c"/>
<rect x="6" y="11" width="28" height="1.2" fill="#b85088"/>
<rect x="0" y="12" width="3.2" height="13" fill="#32cd32"/>
<rect x="4" y="12" width="36" height="13" fill="#1e90ff"/>
<rect x="40.8" y="12" width="25.2" height="13" fill="#1e90ff"/>
<text class="bt" x="22.1" y="20.6" font-size="5.6" text-anchor="middle">Zenith-X</text>
<text class="bt" x="53.4" y="20.6" font-size="5.6" text-anchor="middle">Info</text>
<text class="lb" x="2.7" y="8.2" font-size="5.72" textLength="133.5" lengthAdjust="spacingAndGlyphs">Zenith-X by RenkoKings.com (ES SEP25 (2 Minute))</text>
<path d="M977.4 11.3 H987.2 M983.4 7.6 L987.3 11.3 L983.4 15" stroke="#ececec" stroke-width="0.95" fill="none"/>
<text class="cp" x="2" y="518.3" font-size="6.3" textLength="62.4" lengthAdjust="spacingAndGlyphs">© 2025 NinjaTrader, LLC</text>
<text class="es" x="1.9" y="545.2" font-size="5.4" textLength="19.7" lengthAdjust="spacingAndGlyphs">ES SEP25</text>
<text class="nt" x="962.7" y="545.4" font-size="8.3" textLength="60.3" lengthAdjust="spacing">NINJATRADER</text>
</svg>
</body>
</html>
